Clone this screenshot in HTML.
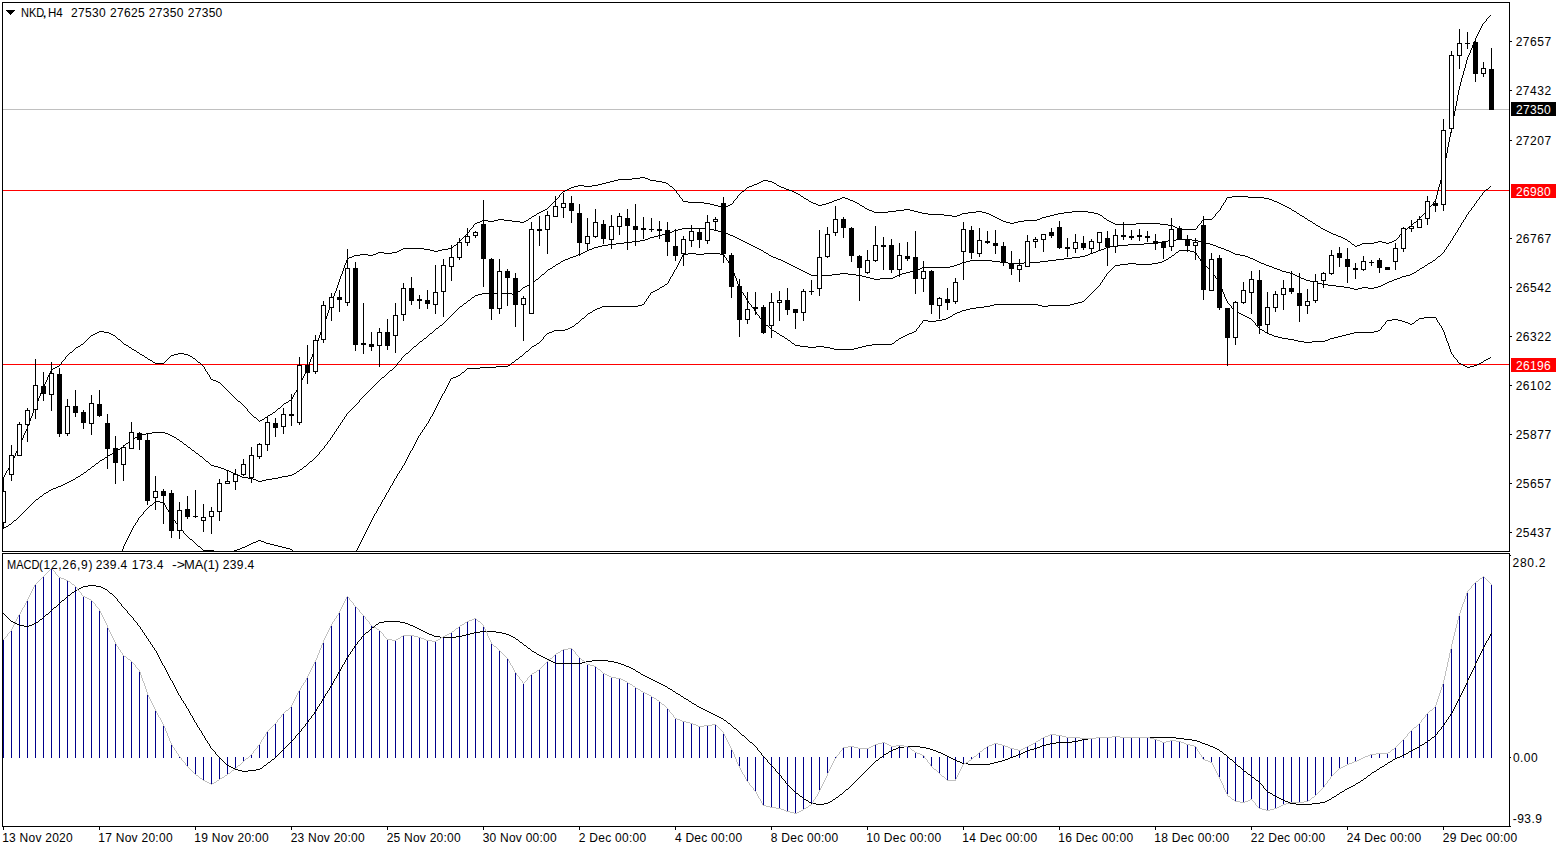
<!DOCTYPE html>
<html><head><meta charset="utf-8"><title>NKD,H4</title>
<style>
html,body{margin:0;padding:0;background:#fff;}
body{width:1566px;height:850px;position:relative;overflow:hidden;font-family:"Liberation Sans",sans-serif;}
svg{position:absolute;left:0;top:0;}
.t{position:absolute;font-size:12px;line-height:14px;white-space:nowrap;transform-origin:0 0;}
</style></head><body>
<svg width="1566" height="850" viewBox="0 0 1566 850" shape-rendering="crispEdges">
<defs><clipPath id="cm"><rect x="3" y="3" width="1506" height="548"/></clipPath>
<clipPath id="cs"><rect x="3" y="554" width="1506" height="272"/></clipPath></defs>
<rect x="3" y="109" width="1506" height="1" fill="#c0c0c0"/>
<rect x="3" y="190" width="1506" height="1" fill="#ff0000"/>
<rect x="3" y="364" width="1506" height="1" fill="#ff0000"/>
<g clip-path="url(#cm)">
<path fill="#000" d="M640 177h5v1h-5zM632 178h8v1h-8zM645 178h3v1h-3zM618 179h14v1h-14zM648 179h2v1h-2zM614 180h4v1h-4zM650 180h6v1h-6zM763 180h5v1h-5zM610 181h4v1h-4zM656 181h6v1h-6zM761 181h2v1h-2zM768 181h4v1h-4zM606 182h4v1h-4zM662 182h4v1h-4zM759 182h2v1h-2zM772 182h2v1h-2zM602 183h4v1h-4zM666 183h2v1h-2zM757 183h2v1h-2zM774 183h2v1h-2zM598 184h4v1h-4zM754 184h3v1h-3zM578 185h6v1h-6zM592 185h6v1h-6zM752 185h2v1h-2zM777 185h2v1h-2zM574 186h4v1h-4zM584 186h8v1h-8zM670 186h2v1h-2zM749 186h3v1h-3zM779 186h2v1h-2zM571 187h3v1h-3zM747 187h2v1h-2zM781 187h3v1h-3zM569 188h2v1h-2zM784 188h2v1h-2zM567 189h2v1h-2zM786 189h3v1h-3zM565 190h2v1h-2zM789 190h3v1h-3zM563 191h2v1h-2zM742 191h2v1h-2zM792 191h2v1h-2zM794 192h2v1h-2zM796 193h2v1h-2zM798 194h2v1h-2zM801 196h2v1h-2zM1232 196h16v1h-16zM842 197h3v1h-3zM1227 197h5v1h-5zM1248 197h16v1h-16zM804 198h2v1h-2zM840 198h2v1h-2zM845 198h3v1h-3zM1264 198h5v1h-5zM806 199h2v1h-2zM837 199h3v1h-3zM848 199h2v1h-2zM1269 199h3v1h-3zM834 200h3v1h-3zM850 200h3v1h-3zM1272 200h2v1h-2zM683 201h5v1h-5zM809 201h2v1h-2zM832 201h2v1h-2zM853 201h2v1h-2zM1274 201h3v1h-3zM688 202h16v1h-16zM811 202h2v1h-2zM829 202h3v1h-3zM855 202h2v1h-2zM1277 202h2v1h-2zM704 203h6v1h-6zM813 203h3v1h-3zM826 203h3v1h-3zM857 203h2v1h-2zM1279 203h2v1h-2zM710 204h4v1h-4zM730 204h2v1h-2zM816 204h2v1h-2zM822 204h4v1h-4zM1281 204h2v1h-2zM714 205h4v1h-4zM728 205h2v1h-2zM818 205h4v1h-4zM860 205h2v1h-2zM1283 205h2v1h-2zM718 206h4v1h-4zM725 206h3v1h-3zM862 206h2v1h-2zM1285 206h2v1h-2zM722 207h3v1h-3zM1287 207h2v1h-2zM865 208h2v1h-2zM1289 208h2v1h-2zM545 209h2v1h-2zM867 209h2v1h-2zM904 209h6v1h-6zM543 210h2v1h-2zM869 210h3v1h-3zM896 210h8v1h-8zM910 210h4v1h-4zM1292 210h2v1h-2zM541 211h2v1h-2zM872 211h2v1h-2zM888 211h8v1h-8zM914 211h4v1h-4zM976 211h6v1h-6zM1072 211h16v1h-16zM1294 211h2v1h-2zM539 212h2v1h-2zM874 212h14v1h-14zM918 212h4v1h-4zM968 212h8v1h-8zM982 212h4v1h-4zM1064 212h8v1h-8zM1088 212h6v1h-6zM537 213h2v1h-2zM922 213h6v1h-6zM962 213h6v1h-6zM986 213h3v1h-3zM1058 213h6v1h-6zM1094 213h4v1h-4zM1297 213h2v1h-2zM928 214h16v1h-16zM960 214h2v1h-2zM989 214h2v1h-2zM1054 214h4v1h-4zM1098 214h2v1h-2zM534 215h2v1h-2zM944 215h8v1h-8zM957 215h3v1h-3zM991 215h2v1h-2zM1050 215h4v1h-4zM1100 215h2v1h-2zM1300 215h2v1h-2zM532 216h2v1h-2zM952 216h5v1h-5zM993 216h2v1h-2zM1046 216h4v1h-4zM1302 216h2v1h-2zM995 217h2v1h-2zM1042 217h4v1h-4zM529 218h2v1h-2zM997 218h2v1h-2zM1040 218h2v1h-2zM1104 218h2v1h-2zM1305 218h2v1h-2zM498 219h6v1h-6zM999 219h2v1h-2zM1037 219h3v1h-3zM1203 219h9v1h-9zM482 220h6v1h-6zM494 220h4v1h-4zM504 220h8v1h-8zM526 220h2v1h-2zM1001 220h2v1h-2zM1024 220h13v1h-13zM1107 220h2v1h-2zM1308 220h2v1h-2zM480 221h2v1h-2zM488 221h6v1h-6zM512 221h8v1h-8zM524 221h2v1h-2zM1003 221h3v1h-3zM1018 221h6v1h-6zM1109 221h2v1h-2zM1310 221h2v1h-2zM477 222h3v1h-3zM520 222h4v1h-4zM1006 222h4v1h-4zM1014 222h4v1h-4zM1111 222h2v1h-2zM1414 222h2v1h-2zM475 223h2v1h-2zM1010 223h4v1h-4zM1113 223h2v1h-2zM1136 223h24v1h-24zM1313 223h2v1h-2zM1115 224h21v1h-21zM1160 224h8v1h-8zM1168 225h5v1h-5zM1316 225h2v1h-2zM1173 226h2v1h-2zM1318 226h2v1h-2zM1175 227h2v1h-2zM1408 227h2v1h-2zM1177 228h2v1h-2zM1321 228h2v1h-2zM1179 229h17v1h-17zM1323 229h2v1h-2zM1325 230h2v1h-2zM1404 230h2v1h-2zM1327 231h2v1h-2zM1329 232h2v1h-2zM1331 233h2v1h-2zM1333 234h3v1h-3zM1336 235h2v1h-2zM1338 236h3v1h-3zM1341 237h2v1h-2zM1343 238h2v1h-2zM1345 239h2v1h-2zM1394 240h2v1h-2zM1348 241h2v1h-2zM1378 241h4v1h-4zM1392 241h2v1h-2zM1374 242h4v1h-4zM1382 242h4v1h-4zM1389 242h3v1h-3zM1362 243h12v1h-12zM1386 243h3v1h-3zM1352 244h2v1h-2zM1360 244h2v1h-2zM454 245h2v1h-2zM1357 245h3v1h-3zM1355 246h2v1h-2zM403 248h21v1h-21zM448 248h4v1h-4zM401 249h2v1h-2zM424 249h6v1h-6zM442 249h6v1h-6zM399 250h2v1h-2zM430 250h4v1h-4zM438 250h4v1h-4zM397 251h2v1h-2zM434 251h4v1h-4zM378 252h6v1h-6zM392 252h5v1h-5zM376 253h2v1h-2zM384 253h8v1h-8zM360 254h8v1h-8zM373 254h3v1h-3zM354 255h6v1h-6zM368 255h5v1h-5zM352 256h2v1h-2zM349 257h3v1h-3zM347 258h2v1h-2zM99 331h5v1h-5zM97 332h2v1h-2zM104 332h5v1h-5zM95 333h2v1h-2zM109 333h2v1h-2zM93 334h2v1h-2zM111 334h2v1h-2zM91 335h2v1h-2zM113 335h2v1h-2zM118 339h2v1h-2zM81 344h2v1h-2zM124 344h2v1h-2zM126 345h2v1h-2zM78 346h2v1h-2zM76 347h2v1h-2zM129 347h2v1h-2zM132 349h2v1h-2zM134 350h2v1h-2zM70 352h2v1h-2zM137 352h2v1h-2zM178 353h6v1h-6zM140 354h2v1h-2zM174 354h4v1h-4zM184 354h4v1h-4zM142 355h2v1h-2zM171 355h3v1h-3zM188 355h2v1h-2zM190 356h2v1h-2zM145 357h2v1h-2zM193 358h2v1h-2zM148 359h2v1h-2zM150 360h2v1h-2zM153 362h2v1h-2zM198 362h2v1h-2zM155 363h9v1h-9zM57 366h2v1h-2zM55 367h2v1h-2zM53 368h2v1h-2zM51 369h2v1h-2zM211 379h2v1h-2zM213 380h3v1h-3zM216 381h2v1h-2zM218 382h2v1h-2zM289 400h2v1h-2zM238 401h2v1h-2zM286 402h2v1h-2zM284 403h2v1h-2zM278 408h2v1h-2zM273 412h2v1h-2zM270 414h2v1h-2zM268 415h2v1h-2zM254 417h2v1h-2zM265 417h2v1h-2zM262 419h2v1h-2zM260 420h2v1h-2zM3 477h1v1h-1zM4 475h1v2h-1zM5 473h1v2h-1zM6 471h1v2h-1zM7 470h1v1h-1zM8 468h1v2h-1zM9 466h1v2h-1zM10 464h1v2h-1zM11 462h1v2h-1zM12 460h1v2h-1zM13 458h1v2h-1zM14 456h1v2h-1zM15 453h1v3h-1zM16 451h1v2h-1zM17 449h1v2h-1zM18 447h1v2h-1zM19 444h1v3h-1zM20 442h1v2h-1zM21 440h1v2h-1zM22 438h1v2h-1zM23 435h1v3h-1zM24 433h1v2h-1zM25 431h1v2h-1zM26 429h1v2h-1zM27 426h1v3h-1zM28 424h1v2h-1zM29 421h1v3h-1zM30 418h1v3h-1zM31 416h1v2h-1zM32 413h1v3h-1zM33 410h1v3h-1zM34 408h1v2h-1zM35 405h1v3h-1zM36 403h1v2h-1zM37 401h1v2h-1zM38 398h1v3h-1zM39 396h1v2h-1zM40 393h1v3h-1zM41 391h1v2h-1zM42 389h1v2h-1zM43 386h1v3h-1zM44 384h1v2h-1zM45 382h1v2h-1zM46 380h1v2h-1zM47 377h1v3h-1zM48 375h1v2h-1zM49 373h1v2h-1zM50 371h1v2h-1zM51 370h1v1h-1zM59 365h1v1h-1zM60 364h1v1h-1zM61 362h1v2h-1zM62 361h1v1h-1zM63 360h1v1h-1zM64 359h1v1h-1zM65 357h1v2h-1zM66 356h1v1h-1zM67 355h1v1h-1zM68 354h1v1h-1zM69 353h1v1h-1zM72 351h1v1h-1zM73 350h1v1h-1zM74 349h1v1h-1zM75 348h1v1h-1zM80 345h1v1h-1zM83 343h1v1h-1zM84 342h1v1h-1zM85 341h1v1h-1zM86 340h1v1h-1zM87 339h1v1h-1zM88 338h1v1h-1zM89 337h1v1h-1zM90 336h1v1h-1zM115 336h1v1h-1zM116 337h1v1h-1zM117 338h1v1h-1zM120 340h1v1h-1zM121 341h1v1h-1zM122 342h1v1h-1zM123 343h1v1h-1zM128 346h1v1h-1zM131 348h1v1h-1zM136 351h1v1h-1zM139 353h1v1h-1zM144 356h1v1h-1zM147 358h1v1h-1zM152 361h1v1h-1zM164 362h1v1h-1zM165 361h1v1h-1zM166 360h1v1h-1zM167 359h1v1h-1zM168 358h1v1h-1zM169 357h1v1h-1zM170 356h1v1h-1zM192 357h1v1h-1zM195 359h1v1h-1zM196 360h1v1h-1zM197 361h1v1h-1zM200 363h1v1h-1zM201 364h1v1h-1zM202 365h1v1h-1zM203 366h1v1h-1zM204 367h1v2h-1zM205 369h1v2h-1zM206 371h1v1h-1zM207 372h1v2h-1zM208 374h1v1h-1zM209 375h1v2h-1zM210 377h1v2h-1zM220 383h1v1h-1zM221 384h1v1h-1zM222 385h1v1h-1zM223 386h1v1h-1zM224 387h1v1h-1zM225 388h1v1h-1zM226 389h1v1h-1zM227 390h1v1h-1zM228 391h1v1h-1zM229 392h1v1h-1zM230 393h1v1h-1zM231 394h1v1h-1zM232 395h1v1h-1zM233 396h1v1h-1zM234 397h1v1h-1zM235 398h1v1h-1zM236 399h1v1h-1zM237 400h1v1h-1zM240 402h1v1h-1zM241 403h1v1h-1zM242 404h1v1h-1zM243 405h1v1h-1zM244 406h1v1h-1zM245 407h1v1h-1zM246 408h1v1h-1zM247 409h1v2h-1zM248 411h1v1h-1zM249 412h1v1h-1zM250 413h1v1h-1zM251 414h1v1h-1zM252 415h1v1h-1zM253 416h1v1h-1zM256 418h1v1h-1zM257 419h1v1h-1zM258 420h1v1h-1zM259 421h1v1h-1zM264 418h1v1h-1zM267 416h1v1h-1zM272 413h1v1h-1zM275 411h1v1h-1zM276 410h1v1h-1zM277 409h1v1h-1zM280 407h1v1h-1zM281 406h1v1h-1zM282 405h1v1h-1zM283 404h1v1h-1zM288 401h1v1h-1zM291 399h1v1h-1zM292 397h1v2h-1zM293 395h1v2h-1zM294 393h1v2h-1zM295 392h1v1h-1zM296 390h1v2h-1zM297 388h1v2h-1zM298 386h1v2h-1zM299 384h1v2h-1zM300 382h1v2h-1zM301 380h1v2h-1zM302 378h1v2h-1zM303 376h1v2h-1zM304 374h1v2h-1zM305 372h1v2h-1zM306 370h1v2h-1zM307 367h1v3h-1zM308 365h1v2h-1zM309 362h1v3h-1zM310 359h1v3h-1zM311 357h1v2h-1zM312 354h1v3h-1zM313 351h1v3h-1zM314 349h1v2h-1zM315 346h1v3h-1zM316 343h1v3h-1zM317 341h1v2h-1zM318 338h1v3h-1zM319 335h1v3h-1zM320 332h1v3h-1zM321 330h1v2h-1zM322 327h1v3h-1zM323 324h1v3h-1zM324 321h1v3h-1zM325 319h1v2h-1zM326 316h1v3h-1zM327 313h1v3h-1zM328 310h1v3h-1zM329 308h1v2h-1zM330 305h1v3h-1zM331 302h1v3h-1zM332 299h1v3h-1zM333 296h1v3h-1zM334 293h1v3h-1zM335 291h1v2h-1zM336 288h1v3h-1zM337 285h1v3h-1zM338 282h1v3h-1zM339 279h1v3h-1zM340 276h1v3h-1zM341 274h1v2h-1zM342 271h1v3h-1zM343 268h1v3h-1zM344 265h1v3h-1zM345 263h1v2h-1zM346 260h1v3h-1zM347 259h1v1h-1zM452 247h1v1h-1zM453 246h1v1h-1zM456 244h1v1h-1zM457 243h1v1h-1zM458 242h1v1h-1zM459 241h1v1h-1zM460 240h1v1h-1zM461 239h1v1h-1zM462 238h1v1h-1zM463 237h1v1h-1zM464 236h1v1h-1zM465 235h1v1h-1zM466 234h1v1h-1zM467 233h1v1h-1zM468 232h1v1h-1zM469 230h1v2h-1zM470 229h1v1h-1zM471 228h1v1h-1zM472 227h1v1h-1zM473 225h1v2h-1zM474 224h1v1h-1zM528 219h1v1h-1zM531 217h1v1h-1zM536 214h1v1h-1zM547 208h1v1h-1zM548 207h1v1h-1zM549 206h1v1h-1zM550 205h1v1h-1zM551 204h1v1h-1zM552 203h1v1h-1zM553 202h1v1h-1zM554 201h1v1h-1zM555 200h1v1h-1zM556 199h1v1h-1zM557 198h1v1h-1zM558 197h1v1h-1zM559 195h1v2h-1zM560 194h1v1h-1zM561 193h1v1h-1zM562 192h1v1h-1zM668 184h1v1h-1zM669 185h1v1h-1zM672 187h1v1h-1zM673 188h1v1h-1zM674 189h1v1h-1zM675 190h1v1h-1zM676 191h1v2h-1zM677 193h1v1h-1zM678 194h1v1h-1zM679 195h1v2h-1zM680 197h1v1h-1zM681 198h1v1h-1zM682 199h1v2h-1zM732 203h1v1h-1zM733 201h1v2h-1zM734 200h1v1h-1zM735 199h1v1h-1zM736 198h1v1h-1zM737 196h1v2h-1zM738 195h1v1h-1zM739 194h1v1h-1zM740 193h1v1h-1zM741 192h1v1h-1zM744 190h1v1h-1zM745 189h1v1h-1zM746 188h1v1h-1zM776 184h1v1h-1zM800 195h1v1h-1zM803 197h1v1h-1zM808 200h1v1h-1zM859 204h1v1h-1zM864 207h1v1h-1zM1102 216h1v1h-1zM1103 217h1v1h-1zM1106 219h1v1h-1zM1196 228h1v1h-1zM1197 226h1v2h-1zM1198 225h1v1h-1zM1199 224h1v1h-1zM1200 223h1v1h-1zM1201 221h1v2h-1zM1202 220h1v1h-1zM1212 218h1v1h-1zM1213 217h1v1h-1zM1214 216h1v1h-1zM1215 214h1v2h-1zM1216 213h1v1h-1zM1217 212h1v1h-1zM1218 211h1v1h-1zM1219 210h1v1h-1zM1220 208h1v2h-1zM1221 206h1v2h-1zM1222 205h1v1h-1zM1223 203h1v2h-1zM1224 202h1v1h-1zM1225 200h1v2h-1zM1226 198h1v2h-1zM1291 209h1v1h-1zM1296 212h1v1h-1zM1299 214h1v1h-1zM1304 217h1v1h-1zM1307 219h1v1h-1zM1312 222h1v1h-1zM1315 224h1v1h-1zM1320 227h1v1h-1zM1347 240h1v1h-1zM1350 242h1v1h-1zM1351 243h1v1h-1zM1354 245h1v1h-1zM1396 239h1v1h-1zM1397 238h1v1h-1zM1398 237h1v1h-1zM1399 235h1v2h-1zM1400 234h1v1h-1zM1401 233h1v1h-1zM1402 232h1v1h-1zM1403 231h1v1h-1zM1406 229h1v1h-1zM1407 228h1v1h-1zM1410 226h1v1h-1zM1411 225h1v1h-1zM1412 224h1v1h-1zM1413 223h1v1h-1zM1416 221h1v1h-1zM1417 220h1v1h-1zM1418 219h1v1h-1zM1419 218h1v1h-1zM1420 217h1v1h-1zM1421 216h1v1h-1zM1422 215h1v1h-1zM1423 214h1v1h-1zM1424 213h1v1h-1zM1425 212h1v1h-1zM1426 211h1v1h-1zM1427 210h1v1h-1zM1428 209h1v1h-1zM1429 207h1v2h-1zM1430 206h1v1h-1zM1431 205h1v1h-1zM1432 204h1v1h-1zM1433 202h1v2h-1zM1434 201h1v1h-1zM1435 199h1v2h-1zM1436 195h1v4h-1zM1437 191h1v4h-1zM1438 187h1v4h-1zM1439 184h1v3h-1zM1440 180h1v4h-1zM1441 176h1v4h-1zM1442 172h1v4h-1zM1443 168h1v4h-1zM1444 163h1v5h-1zM1445 158h1v5h-1zM1446 153h1v5h-1zM1447 147h1v6h-1zM1448 142h1v5h-1zM1449 137h1v5h-1zM1450 132h1v5h-1zM1451 127h1v5h-1zM1452 122h1v5h-1zM1453 116h1v6h-1zM1454 111h1v5h-1zM1455 106h1v5h-1zM1456 101h1v5h-1zM1457 95h1v6h-1zM1458 90h1v5h-1zM1459 86h1v4h-1zM1460 82h1v4h-1zM1461 78h1v4h-1zM1462 75h1v3h-1zM1463 71h1v4h-1zM1464 68h1v3h-1zM1465 64h1v4h-1zM1466 60h1v4h-1zM1467 57h1v3h-1zM1468 55h1v2h-1zM1469 53h1v2h-1zM1470 50h1v3h-1zM1471 48h1v2h-1zM1472 45h1v3h-1zM1473 43h1v2h-1zM1474 41h1v2h-1zM1475 38h1v3h-1zM1476 36h1v2h-1zM1477 34h1v2h-1zM1478 32h1v2h-1zM1479 30h1v2h-1zM1480 28h1v2h-1zM1481 26h1v2h-1zM1482 24h1v2h-1zM1483 23h1v1h-1zM1484 22h1v1h-1zM1485 21h1v1h-1zM1486 19h1v2h-1zM1487 18h1v1h-1zM1488 17h1v1h-1zM1489 16h1v1h-1zM1490 15h1v1h-1z"/>
<path fill="#000" d="M1486 189h2v1h-2zM682 228h28v1h-28zM678 229h4v1h-4zM710 229h4v1h-4zM674 230h4v1h-4zM714 230h4v1h-4zM672 231h2v1h-2zM718 231h4v1h-4zM669 232h3v1h-3zM722 232h3v1h-3zM666 233h3v1h-3zM725 233h3v1h-3zM662 234h4v1h-4zM728 234h2v1h-2zM658 235h4v1h-4zM730 235h3v1h-3zM654 236h4v1h-4zM733 236h2v1h-2zM650 237h4v1h-4zM735 237h2v1h-2zM648 238h2v1h-2zM737 238h2v1h-2zM645 239h3v1h-3zM739 239h2v1h-2zM1176 239h16v1h-16zM640 240h5v1h-5zM741 240h2v1h-2zM1168 240h8v1h-8zM1192 240h6v1h-6zM632 241h8v1h-8zM743 241h2v1h-2zM1162 241h6v1h-6zM1198 241h4v1h-4zM624 242h8v1h-8zM745 242h2v1h-2zM1158 242h4v1h-4zM1202 242h4v1h-4zM616 243h8v1h-8zM747 243h2v1h-2zM1144 243h14v1h-14zM1206 243h4v1h-4zM608 244h8v1h-8zM749 244h2v1h-2zM1128 244h16v1h-16zM1210 244h3v1h-3zM602 245h6v1h-6zM751 245h2v1h-2zM1114 245h14v1h-14zM1213 245h3v1h-3zM598 246h4v1h-4zM753 246h2v1h-2zM1110 246h4v1h-4zM1216 246h2v1h-2zM594 247h4v1h-4zM755 247h2v1h-2zM1106 247h4v1h-4zM1218 247h3v1h-3zM592 248h2v1h-2zM757 248h2v1h-2zM1104 248h2v1h-2zM1221 248h3v1h-3zM589 249h3v1h-3zM759 249h2v1h-2zM1101 249h3v1h-3zM1224 249h2v1h-2zM587 250h2v1h-2zM761 250h2v1h-2zM1098 250h3v1h-3zM1226 250h3v1h-3zM585 251h2v1h-2zM1096 251h2v1h-2zM1229 251h2v1h-2zM583 252h2v1h-2zM764 252h2v1h-2zM1093 252h3v1h-3zM1231 252h2v1h-2zM581 253h2v1h-2zM766 253h2v1h-2zM1090 253h3v1h-3zM1233 253h2v1h-2zM578 254h3v1h-3zM1088 254h2v1h-2zM1235 254h5v1h-5zM576 255h2v1h-2zM769 255h2v1h-2zM1085 255h3v1h-3zM1240 255h5v1h-5zM573 256h3v1h-3zM771 256h2v1h-2zM1080 256h5v1h-5zM1245 256h3v1h-3zM1438 256h2v1h-2zM570 257h3v1h-3zM773 257h3v1h-3zM1072 257h8v1h-8zM1248 257h2v1h-2zM568 258h2v1h-2zM776 258h2v1h-2zM1064 258h8v1h-8zM1250 258h3v1h-3zM565 259h3v1h-3zM778 259h3v1h-3zM1056 259h8v1h-8zM1253 259h2v1h-2zM563 260h2v1h-2zM781 260h2v1h-2zM970 260h22v1h-22zM1048 260h8v1h-8zM1255 260h2v1h-2zM1433 260h2v1h-2zM561 261h2v1h-2zM783 261h2v1h-2zM966 261h4v1h-4zM992 261h8v1h-8zM1040 261h8v1h-8zM1257 261h2v1h-2zM785 262h2v1h-2zM962 262h4v1h-4zM1000 262h8v1h-8zM1024 262h16v1h-16zM1259 262h2v1h-2zM1430 262h2v1h-2zM558 263h2v1h-2zM787 263h2v1h-2zM960 263h2v1h-2zM1008 263h16v1h-16zM1261 263h3v1h-3zM1428 263h2v1h-2zM556 264h2v1h-2zM789 264h2v1h-2zM957 264h3v1h-3zM1264 264h2v1h-2zM791 265h2v1h-2zM954 265h3v1h-3zM1266 265h3v1h-3zM1425 265h2v1h-2zM553 266h2v1h-2zM793 266h2v1h-2zM950 266h4v1h-4zM1269 266h3v1h-3zM795 267h2v1h-2zM922 267h28v1h-28zM1272 267h2v1h-2zM1422 267h2v1h-2zM550 268h2v1h-2zM797 268h2v1h-2zM920 268h2v1h-2zM1274 268h3v1h-3zM1420 268h2v1h-2zM548 269h2v1h-2zM799 269h2v1h-2zM917 269h3v1h-3zM1277 269h3v1h-3zM801 270h2v1h-2zM914 270h3v1h-3zM1280 270h2v1h-2zM1417 270h2v1h-2zM803 271h2v1h-2zM910 271h4v1h-4zM1282 271h4v1h-4zM805 272h2v1h-2zM906 272h4v1h-4zM1286 272h4v1h-4zM1414 272h2v1h-2zM807 273h2v1h-2zM840 273h8v1h-8zM902 273h4v1h-4zM1290 273h3v1h-3zM1412 273h2v1h-2zM542 274h2v1h-2zM809 274h2v1h-2zM832 274h8v1h-8zM848 274h8v1h-8zM899 274h3v1h-3zM1293 274h2v1h-2zM1410 274h2v1h-2zM811 275h21v1h-21zM856 275h6v1h-6zM897 275h2v1h-2zM1295 275h2v1h-2zM1406 275h4v1h-4zM862 276h4v1h-4zM895 276h2v1h-2zM1297 276h2v1h-2zM1402 276h4v1h-4zM866 277h4v1h-4zM893 277h2v1h-2zM1299 277h2v1h-2zM1400 277h2v1h-2zM870 278h4v1h-4zM880 278h13v1h-13zM1301 278h3v1h-3zM1397 278h3v1h-3zM536 279h2v1h-2zM874 279h6v1h-6zM1304 279h2v1h-2zM1394 279h3v1h-3zM1306 280h4v1h-4zM1392 280h2v1h-2zM1310 281h4v1h-4zM1389 281h3v1h-3zM532 282h2v1h-2zM1314 282h4v1h-4zM1387 282h2v1h-2zM1318 283h4v1h-4zM1385 283h2v1h-2zM529 284h2v1h-2zM1322 284h6v1h-6zM1383 284h2v1h-2zM527 285h2v1h-2zM1328 285h8v1h-8zM1381 285h2v1h-2zM525 286h2v1h-2zM1336 286h8v1h-8zM1378 286h3v1h-3zM523 287h2v1h-2zM1344 287h6v1h-6zM1362 287h6v1h-6zM1374 287h4v1h-4zM1350 288h4v1h-4zM1358 288h4v1h-4zM1368 288h6v1h-6zM1354 289h4v1h-4zM518 291h2v1h-2zM482 293h30v1h-30zM478 294h4v1h-4zM512 294h4v1h-4zM475 295h3v1h-3zM472 297h2v1h-2zM468 300h2v1h-2zM464 303h2v1h-2zM460 306h2v1h-2zM440 325h2v1h-2zM436 328h2v1h-2zM430 333h2v1h-2zM424 338h2v1h-2zM420 341h2v1h-2zM414 346h2v1h-2zM406 353h2v1h-2zM390 370h2v1h-2zM382 377h2v1h-2zM152 432h13v1h-13zM146 433h6v1h-6zM165 433h3v1h-3zM142 434h4v1h-4zM168 434h2v1h-2zM139 435h3v1h-3zM170 435h2v1h-2zM137 436h2v1h-2zM172 436h2v1h-2zM135 437h2v1h-2zM174 437h2v1h-2zM133 438h2v1h-2zM131 439h2v1h-2zM177 439h2v1h-2zM180 441h2v1h-2zM126 443h2v1h-2zM184 444h2v1h-2zM121 447h2v1h-2zM188 447h2v1h-2zM118 449h2v1h-2zM116 450h2v1h-2zM192 450h2v1h-2zM113 452h2v1h-2zM196 453h2v1h-2zM110 454h2v1h-2zM108 455h2v1h-2zM200 456h2v1h-2zM105 457h2v1h-2zM102 459h2v1h-2zM100 460h2v1h-2zM206 461h2v1h-2zM310 461h2v1h-2zM96 463h2v1h-2zM211 465h3v1h-3zM92 466h2v1h-2zM214 466h4v1h-4zM304 466h2v1h-2zM218 467h3v1h-3zM221 468h3v1h-3zM88 469h2v1h-2zM224 469h2v1h-2zM300 469h2v1h-2zM226 470h3v1h-3zM229 471h2v1h-2zM297 471h2v1h-2zM84 472h2v1h-2zM231 472h2v1h-2zM233 473h2v1h-2zM294 473h2v1h-2zM81 474h2v1h-2zM235 474h2v1h-2zM292 474h2v1h-2zM237 475h3v1h-3zM288 475h4v1h-4zM78 476h2v1h-2zM240 476h2v1h-2zM282 476h6v1h-6zM76 477h2v1h-2zM242 477h6v1h-6zM278 477h4v1h-4zM248 478h5v1h-5zM272 478h6v1h-6zM73 479h2v1h-2zM253 479h3v1h-3zM266 479h6v1h-6zM71 480h2v1h-2zM256 480h2v1h-2zM262 480h4v1h-4zM69 481h2v1h-2zM258 481h4v1h-4zM67 482h2v1h-2zM65 483h2v1h-2zM63 484h2v1h-2zM61 485h2v1h-2zM58 486h3v1h-3zM56 487h2v1h-2zM53 488h3v1h-3zM51 489h2v1h-2zM49 490h2v1h-2zM46 492h2v1h-2zM44 493h2v1h-2zM40 496h2v1h-2zM36 499h2v1h-2zM14 520h2v1h-2zM9 524h2v1h-2zM6 526h2v1h-2zM4 527h2v1h-2zM3 528h1v1h-1zM8 525h1v1h-1zM11 523h1v1h-1zM12 522h1v1h-1zM13 521h1v1h-1zM16 519h1v1h-1zM17 518h1v1h-1zM18 517h1v1h-1zM19 516h1v1h-1zM20 515h1v1h-1zM21 514h1v1h-1zM22 513h1v1h-1zM23 512h1v1h-1zM24 511h1v1h-1zM25 510h1v1h-1zM26 509h1v1h-1zM27 508h1v1h-1zM28 507h1v1h-1zM29 506h1v1h-1zM30 505h1v1h-1zM31 504h1v1h-1zM32 503h1v1h-1zM33 502h1v1h-1zM34 501h1v1h-1zM35 500h1v1h-1zM38 498h1v1h-1zM39 497h1v1h-1zM42 495h1v1h-1zM43 494h1v1h-1zM48 491h1v1h-1zM75 478h1v1h-1zM80 475h1v1h-1zM83 473h1v1h-1zM86 471h1v1h-1zM87 470h1v1h-1zM90 468h1v1h-1zM91 467h1v1h-1zM94 465h1v1h-1zM95 464h1v1h-1zM98 462h1v1h-1zM99 461h1v1h-1zM104 458h1v1h-1zM107 456h1v1h-1zM112 453h1v1h-1zM115 451h1v1h-1zM120 448h1v1h-1zM123 446h1v1h-1zM124 445h1v1h-1zM125 444h1v1h-1zM128 442h1v1h-1zM129 441h1v1h-1zM130 440h1v1h-1zM176 438h1v1h-1zM179 440h1v1h-1zM182 442h1v1h-1zM183 443h1v1h-1zM186 445h1v1h-1zM187 446h1v1h-1zM190 448h1v1h-1zM191 449h1v1h-1zM194 451h1v1h-1zM195 452h1v1h-1zM198 454h1v1h-1zM199 455h1v1h-1zM202 457h1v1h-1zM203 458h1v1h-1zM204 459h1v1h-1zM205 460h1v1h-1zM208 462h1v1h-1zM209 463h1v1h-1zM210 464h1v1h-1zM296 472h1v1h-1zM299 470h1v1h-1zM302 468h1v1h-1zM303 467h1v1h-1zM306 465h1v1h-1zM307 464h1v1h-1zM308 463h1v1h-1zM309 462h1v1h-1zM312 460h1v1h-1zM313 459h1v1h-1zM314 458h1v1h-1zM315 457h1v1h-1zM316 456h1v1h-1zM317 455h1v1h-1zM318 454h1v1h-1zM319 452h1v2h-1zM320 451h1v1h-1zM321 450h1v1h-1zM322 449h1v1h-1zM323 448h1v1h-1zM324 446h1v2h-1zM325 445h1v1h-1zM326 444h1v1h-1zM327 442h1v2h-1zM328 441h1v1h-1zM329 440h1v1h-1zM330 438h1v2h-1zM331 437h1v1h-1zM332 435h1v2h-1zM333 434h1v1h-1zM334 432h1v2h-1zM335 431h1v1h-1zM336 429h1v2h-1zM337 428h1v1h-1zM338 426h1v2h-1zM339 425h1v1h-1zM340 423h1v2h-1zM341 422h1v1h-1zM342 420h1v2h-1zM343 419h1v1h-1zM344 417h1v2h-1zM345 416h1v1h-1zM346 414h1v2h-1zM347 413h1v1h-1zM348 412h1v1h-1zM349 411h1v1h-1zM350 410h1v1h-1zM351 409h1v1h-1zM352 408h1v1h-1zM353 407h1v1h-1zM354 406h1v1h-1zM355 405h1v1h-1zM356 404h1v1h-1zM357 403h1v1h-1zM358 402h1v1h-1zM359 400h1v2h-1zM360 399h1v1h-1zM361 398h1v1h-1zM362 397h1v1h-1zM363 396h1v1h-1zM364 395h1v1h-1zM365 394h1v1h-1zM366 393h1v1h-1zM367 392h1v1h-1zM368 391h1v1h-1zM369 390h1v1h-1zM370 389h1v1h-1zM371 388h1v1h-1zM372 387h1v1h-1zM373 386h1v1h-1zM374 385h1v1h-1zM375 384h1v1h-1zM376 383h1v1h-1zM377 382h1v1h-1zM378 381h1v1h-1zM379 380h1v1h-1zM380 379h1v1h-1zM381 378h1v1h-1zM384 376h1v1h-1zM385 375h1v1h-1zM386 374h1v1h-1zM387 373h1v1h-1zM388 372h1v1h-1zM389 371h1v1h-1zM392 369h1v1h-1zM393 368h1v1h-1zM394 367h1v1h-1zM395 366h1v1h-1zM396 365h1v1h-1zM397 363h1v2h-1zM398 362h1v1h-1zM399 361h1v1h-1zM400 360h1v1h-1zM401 358h1v2h-1zM402 357h1v1h-1zM403 356h1v1h-1zM404 355h1v1h-1zM405 354h1v1h-1zM408 352h1v1h-1zM409 351h1v1h-1zM410 350h1v1h-1zM411 349h1v1h-1zM412 348h1v1h-1zM413 347h1v1h-1zM416 345h1v1h-1zM417 344h1v1h-1zM418 343h1v1h-1zM419 342h1v1h-1zM422 340h1v1h-1zM423 339h1v1h-1zM426 337h1v1h-1zM427 336h1v1h-1zM428 335h1v1h-1zM429 334h1v1h-1zM432 332h1v1h-1zM433 331h1v1h-1zM434 330h1v1h-1zM435 329h1v1h-1zM438 327h1v1h-1zM439 326h1v1h-1zM442 324h1v1h-1zM443 323h1v1h-1zM444 322h1v1h-1zM445 321h1v1h-1zM446 320h1v1h-1zM447 319h1v1h-1zM448 318h1v1h-1zM449 317h1v1h-1zM450 316h1v1h-1zM451 315h1v1h-1zM452 314h1v1h-1zM453 313h1v1h-1zM454 312h1v1h-1zM455 311h1v1h-1zM456 310h1v1h-1zM457 309h1v1h-1zM458 308h1v1h-1zM459 307h1v1h-1zM462 305h1v1h-1zM463 304h1v1h-1zM466 302h1v1h-1zM467 301h1v1h-1zM470 299h1v1h-1zM471 298h1v1h-1zM474 296h1v1h-1zM516 293h1v1h-1zM517 292h1v1h-1zM520 290h1v1h-1zM521 289h1v1h-1zM522 288h1v1h-1zM531 283h1v1h-1zM534 281h1v1h-1zM535 280h1v1h-1zM538 278h1v1h-1zM539 277h1v1h-1zM540 276h1v1h-1zM541 275h1v1h-1zM544 273h1v1h-1zM545 272h1v1h-1zM546 271h1v1h-1zM547 270h1v1h-1zM552 267h1v1h-1zM555 265h1v1h-1zM560 262h1v1h-1zM763 251h1v1h-1zM768 254h1v1h-1zM1416 271h1v1h-1zM1419 269h1v1h-1zM1424 266h1v1h-1zM1427 264h1v1h-1zM1432 261h1v1h-1zM1435 259h1v1h-1zM1436 258h1v1h-1zM1437 257h1v1h-1zM1440 255h1v1h-1zM1441 254h1v1h-1zM1442 253h1v1h-1zM1443 252h1v1h-1zM1444 250h1v2h-1zM1445 249h1v1h-1zM1446 247h1v2h-1zM1447 246h1v1h-1zM1448 244h1v2h-1zM1449 243h1v1h-1zM1450 241h1v2h-1zM1451 240h1v1h-1zM1452 238h1v2h-1zM1453 236h1v2h-1zM1454 235h1v1h-1zM1455 233h1v2h-1zM1456 232h1v1h-1zM1457 230h1v2h-1zM1458 228h1v2h-1zM1459 227h1v1h-1zM1460 225h1v2h-1zM1461 223h1v2h-1zM1462 222h1v1h-1zM1463 220h1v2h-1zM1464 219h1v1h-1zM1465 217h1v2h-1zM1466 215h1v2h-1zM1467 214h1v1h-1zM1468 212h1v2h-1zM1469 211h1v1h-1zM1470 210h1v1h-1zM1471 208h1v2h-1zM1472 207h1v1h-1zM1473 206h1v1h-1zM1474 204h1v2h-1zM1475 203h1v1h-1zM1476 201h1v2h-1zM1477 200h1v1h-1zM1478 199h1v1h-1zM1479 197h1v2h-1zM1480 196h1v1h-1zM1481 195h1v1h-1zM1482 193h1v2h-1zM1483 192h1v1h-1zM1484 191h1v1h-1zM1485 190h1v1h-1zM1488 188h1v1h-1zM1489 187h1v1h-1zM1490 186h1v1h-1z"/>
<path fill="#000" d="M155 501h5v1h-5zM160 502h4v1h-4zM150 505h2v1h-2zM190 539h2v1h-2zM258 540h3v1h-3zM256 541h2v1h-2zM261 541h3v1h-3zM253 542h3v1h-3zM264 542h2v1h-2zM251 543h2v1h-2zM266 543h4v1h-4zM249 544h2v1h-2zM270 544h4v1h-4zM247 545h2v1h-2zM274 545h4v1h-4zM198 546h2v1h-2zM245 546h2v1h-2zM278 546h4v1h-4zM242 547h3v1h-3zM282 547h4v1h-4zM240 548h2v1h-2zM286 548h4v1h-4zM237 549h3v1h-3zM290 549h2v1h-2zM203 550h11v1h-11zM234 550h3v1h-3zM122 549h1v2h-1zM123 546h1v3h-1zM124 544h1v2h-1zM125 542h1v2h-1zM126 540h1v2h-1zM127 538h1v2h-1zM128 536h1v2h-1zM129 534h1v2h-1zM130 532h1v2h-1zM131 530h1v2h-1zM132 528h1v2h-1zM133 526h1v2h-1zM134 525h1v1h-1zM135 523h1v2h-1zM136 522h1v1h-1zM137 520h1v2h-1zM138 518h1v2h-1zM139 517h1v1h-1zM140 516h1v1h-1zM141 515h1v1h-1zM142 514h1v1h-1zM143 512h1v2h-1zM144 511h1v1h-1zM145 510h1v1h-1zM146 509h1v1h-1zM147 508h1v1h-1zM148 507h1v1h-1zM149 506h1v1h-1zM152 504h1v1h-1zM153 503h1v1h-1zM154 502h1v1h-1zM164 503h1v2h-1zM165 505h1v2h-1zM166 507h1v2h-1zM167 509h1v1h-1zM168 510h1v2h-1zM169 512h1v2h-1zM170 514h1v2h-1zM171 516h1v1h-1zM172 517h1v2h-1zM173 519h1v1h-1zM174 520h1v1h-1zM175 521h1v2h-1zM176 523h1v1h-1zM177 524h1v1h-1zM178 525h1v2h-1zM179 527h1v1h-1zM180 528h1v1h-1zM181 529h1v1h-1zM182 530h1v1h-1zM183 531h1v2h-1zM184 533h1v1h-1zM185 534h1v1h-1zM186 535h1v1h-1zM187 536h1v1h-1zM188 537h1v1h-1zM189 538h1v1h-1zM192 540h1v1h-1zM193 541h1v1h-1zM194 542h1v1h-1zM195 543h1v1h-1zM196 544h1v1h-1zM197 545h1v1h-1zM200 547h1v1h-1zM201 548h1v1h-1zM202 549h1v1h-1zM292 550h1v1h-1z"/>
<path fill="#000" d="M1179 250h11v1h-11zM1190 251h4v1h-4zM1176 252h2v1h-2zM1194 252h2v1h-2zM688 253h8v1h-8zM704 253h16v1h-16zM683 254h5v1h-5zM696 254h8v1h-8zM720 254h4v1h-4zM1172 255h2v1h-2zM1169 257h2v1h-2zM1166 259h2v1h-2zM1164 260h2v1h-2zM1162 261h2v1h-2zM1158 262h4v1h-4zM1128 263h8v1h-8zM1152 263h6v1h-6zM1120 264h8v1h-8zM1136 264h16v1h-16zM1115 265h5v1h-5zM1204 265h2v1h-2zM1208 268h2v1h-2zM665 284h2v1h-2zM662 286h2v1h-2zM660 287h2v1h-2zM657 289h2v1h-2zM655 290h2v1h-2zM653 291h2v1h-2zM651 292h2v1h-2zM1082 301h2v1h-2zM1078 302h4v1h-4zM1074 303h4v1h-4zM642 304h2v1h-2zM994 304h44v1h-44zM1070 304h4v1h-4zM638 305h4v1h-4zM990 305h4v1h-4zM1038 305h4v1h-4zM1048 305h22v1h-22zM602 306h36v1h-36zM984 306h6v1h-6zM1042 306h6v1h-6zM600 307h2v1h-2zM976 307h8v1h-8zM597 308h3v1h-3zM970 308h6v1h-6zM595 309h2v1h-2zM966 309h4v1h-4zM593 310h2v1h-2zM962 310h4v1h-4zM960 311h2v1h-2zM1235 311h2v1h-2zM590 312h2v1h-2zM957 312h3v1h-3zM1237 312h2v1h-2zM588 313h2v1h-2zM955 313h2v1h-2zM1239 313h2v1h-2zM953 314h2v1h-2zM1241 314h2v1h-2zM1243 315h2v1h-2zM950 316h2v1h-2zM1245 316h2v1h-2zM948 317h2v1h-2zM1247 317h2v1h-2zM1424 317h12v1h-12zM582 318h2v1h-2zM946 318h2v1h-2zM1249 318h2v1h-2zM1419 318h5v1h-5zM942 319h4v1h-4zM1392 319h6v1h-6zM923 320h5v1h-5zM936 320h6v1h-6zM1387 320h5v1h-5zM1398 320h4v1h-4zM1416 320h2v1h-2zM928 321h8v1h-8zM1402 321h3v1h-3zM1405 322h3v1h-3zM576 323h2v1h-2zM1408 323h2v1h-2zM1412 323h2v1h-2zM1410 324h2v1h-2zM766 325h2v1h-2zM572 326h2v1h-2zM570 327h2v1h-2zM568 328h2v1h-2zM565 329h3v1h-3zM1260 329h2v1h-2zM554 330h11v1h-11zM772 330h2v1h-2zM1262 330h2v1h-2zM1378 330h2v1h-2zM552 331h2v1h-2zM774 331h2v1h-2zM914 331h2v1h-2zM1374 331h4v1h-4zM549 332h3v1h-3zM912 332h2v1h-2zM1265 332h2v1h-2zM1354 332h20v1h-20zM547 333h2v1h-2zM777 333h2v1h-2zM909 333h3v1h-3zM1267 333h2v1h-2zM1350 333h4v1h-4zM907 334h2v1h-2zM1269 334h3v1h-3zM1346 334h4v1h-4zM780 335h2v1h-2zM905 335h2v1h-2zM1272 335h2v1h-2zM1342 335h4v1h-4zM782 336h2v1h-2zM903 336h2v1h-2zM1274 336h4v1h-4zM1338 336h4v1h-4zM901 337h2v1h-2zM1278 337h4v1h-4zM1334 337h4v1h-4zM785 338h2v1h-2zM899 338h2v1h-2zM1282 338h6v1h-6zM1330 338h4v1h-4zM1288 339h6v1h-6zM1328 339h2v1h-2zM788 340h2v1h-2zM896 340h2v1h-2zM1294 340h4v1h-4zM1325 340h3v1h-3zM1298 341h6v1h-6zM1312 341h13v1h-13zM1304 342h8v1h-8zM537 343h2v1h-2zM792 343h2v1h-2zM892 343h2v1h-2zM872 344h20v1h-20zM534 345h2v1h-2zM795 345h5v1h-5zM866 345h6v1h-6zM532 346h2v1h-2zM800 346h8v1h-8zM816 346h8v1h-8zM862 346h4v1h-4zM808 347h8v1h-8zM824 347h6v1h-6zM858 347h4v1h-4zM830 348h4v1h-4zM854 348h4v1h-4zM834 349h20v1h-20zM526 351h2v1h-2zM520 356h2v1h-2zM1488 358h2v1h-2zM516 359h2v1h-2zM1486 359h2v1h-2zM1484 360h2v1h-2zM512 362h2v1h-2zM1481 362h2v1h-2zM1459 363h2v1h-2zM1479 363h2v1h-2zM1461 364h2v1h-2zM1477 364h2v1h-2zM508 365h2v1h-2zM1463 365h2v1h-2zM1474 365h3v1h-3zM496 366h12v1h-12zM1465 366h2v1h-2zM1470 366h4v1h-4zM480 367h16v1h-16zM1467 367h3v1h-3zM467 368h13v1h-13zM462 372h2v1h-2zM458 375h2v1h-2zM456 376h2v1h-2zM453 377h3v1h-3zM451 378h2v1h-2zM356 550h1v1h-1zM357 548h1v2h-1zM358 546h1v2h-1zM359 544h1v2h-1zM360 542h1v2h-1zM361 540h1v2h-1zM362 538h1v2h-1zM363 536h1v2h-1zM364 534h1v2h-1zM365 532h1v2h-1zM366 530h1v2h-1zM367 528h1v2h-1zM368 526h1v2h-1zM369 524h1v2h-1zM370 522h1v2h-1zM371 520h1v2h-1zM372 518h1v2h-1zM373 516h1v2h-1zM374 514h1v2h-1zM375 513h1v1h-1zM376 511h1v2h-1zM377 509h1v2h-1zM378 507h1v2h-1zM379 506h1v1h-1zM380 504h1v2h-1zM381 502h1v2h-1zM382 500h1v2h-1zM383 499h1v1h-1zM384 497h1v2h-1zM385 495h1v2h-1zM386 493h1v2h-1zM387 492h1v1h-1zM388 490h1v2h-1zM389 488h1v2h-1zM390 486h1v2h-1zM391 485h1v1h-1zM392 483h1v2h-1zM393 481h1v2h-1zM394 479h1v2h-1zM395 478h1v1h-1zM396 476h1v2h-1zM397 474h1v2h-1zM398 473h1v1h-1zM399 471h1v2h-1zM400 470h1v1h-1zM401 468h1v2h-1zM402 466h1v2h-1zM403 465h1v1h-1zM404 463h1v2h-1zM405 461h1v2h-1zM406 459h1v2h-1zM407 457h1v2h-1zM408 455h1v2h-1zM409 453h1v2h-1zM410 451h1v2h-1zM411 450h1v1h-1zM412 448h1v2h-1zM413 446h1v2h-1zM414 444h1v2h-1zM415 442h1v2h-1zM416 440h1v2h-1zM417 438h1v2h-1zM418 436h1v2h-1zM419 435h1v1h-1zM420 433h1v2h-1zM421 432h1v1h-1zM422 430h1v2h-1zM423 429h1v1h-1zM424 427h1v2h-1zM425 426h1v1h-1zM426 424h1v2h-1zM427 423h1v1h-1zM428 421h1v2h-1zM429 419h1v2h-1zM430 417h1v2h-1zM431 416h1v1h-1zM432 414h1v2h-1zM433 412h1v2h-1zM434 410h1v2h-1zM435 408h1v2h-1zM436 406h1v2h-1zM437 404h1v2h-1zM438 402h1v2h-1zM439 400h1v2h-1zM440 398h1v2h-1zM441 396h1v2h-1zM442 394h1v2h-1zM443 393h1v1h-1zM444 391h1v2h-1zM445 389h1v2h-1zM446 387h1v2h-1zM447 385h1v2h-1zM448 383h1v2h-1zM449 381h1v2h-1zM450 379h1v2h-1zM460 374h1v1h-1zM461 373h1v1h-1zM464 371h1v1h-1zM465 370h1v1h-1zM466 369h1v1h-1zM510 364h1v1h-1zM511 363h1v1h-1zM514 361h1v1h-1zM515 360h1v1h-1zM518 358h1v1h-1zM519 357h1v1h-1zM522 355h1v1h-1zM523 354h1v1h-1zM524 353h1v1h-1zM525 352h1v1h-1zM528 350h1v1h-1zM529 349h1v1h-1zM530 348h1v1h-1zM531 347h1v1h-1zM536 344h1v1h-1zM539 342h1v1h-1zM540 341h1v1h-1zM541 340h1v1h-1zM542 339h1v1h-1zM543 337h1v2h-1zM544 336h1v1h-1zM545 335h1v1h-1zM546 334h1v1h-1zM574 325h1v1h-1zM575 324h1v1h-1zM578 322h1v1h-1zM579 321h1v1h-1zM580 320h1v1h-1zM581 319h1v1h-1zM584 317h1v1h-1zM585 316h1v1h-1zM586 315h1v1h-1zM587 314h1v1h-1zM592 311h1v1h-1zM644 302h1v2h-1zM645 301h1v1h-1zM646 299h1v2h-1zM647 298h1v1h-1zM648 296h1v2h-1zM649 295h1v1h-1zM650 293h1v2h-1zM659 288h1v1h-1zM664 285h1v1h-1zM667 283h1v1h-1zM668 281h1v2h-1zM669 279h1v2h-1zM670 277h1v2h-1zM671 276h1v1h-1zM672 274h1v2h-1zM673 272h1v2h-1zM674 270h1v2h-1zM675 269h1v1h-1zM676 267h1v2h-1zM677 265h1v2h-1zM678 263h1v2h-1zM679 261h1v2h-1zM680 259h1v2h-1zM681 257h1v2h-1zM682 255h1v2h-1zM724 255h1v2h-1zM725 257h1v1h-1zM726 258h1v2h-1zM727 260h1v1h-1zM728 261h1v2h-1zM729 263h1v1h-1zM730 264h1v2h-1zM731 266h1v2h-1zM732 268h1v2h-1zM733 270h1v3h-1zM734 273h1v3h-1zM735 276h1v2h-1zM736 278h1v3h-1zM737 281h1v3h-1zM738 284h1v2h-1zM739 286h1v2h-1zM740 288h1v2h-1zM741 290h1v2h-1zM742 292h1v1h-1zM743 293h1v2h-1zM744 295h1v1h-1zM745 296h1v2h-1zM746 298h1v2h-1zM747 300h1v1h-1zM748 301h1v2h-1zM749 303h1v1h-1zM750 304h1v1h-1zM751 305h1v2h-1zM752 307h1v1h-1zM753 308h1v1h-1zM754 309h1v2h-1zM755 311h1v1h-1zM756 312h1v2h-1zM757 314h1v1h-1zM758 315h1v1h-1zM759 316h1v2h-1zM760 318h1v1h-1zM761 319h1v1h-1zM762 320h1v2h-1zM763 322h1v1h-1zM764 323h1v1h-1zM765 324h1v1h-1zM768 326h1v1h-1zM769 327h1v1h-1zM770 328h1v1h-1zM771 329h1v1h-1zM776 332h1v1h-1zM779 334h1v1h-1zM784 337h1v1h-1zM787 339h1v1h-1zM790 341h1v1h-1zM791 342h1v1h-1zM794 344h1v1h-1zM894 342h1v1h-1zM895 341h1v1h-1zM898 339h1v1h-1zM916 329h1v2h-1zM917 328h1v1h-1zM918 327h1v1h-1zM919 325h1v2h-1zM920 324h1v1h-1zM921 323h1v1h-1zM922 321h1v2h-1zM952 315h1v1h-1zM1084 300h1v1h-1zM1085 299h1v1h-1zM1086 298h1v1h-1zM1087 297h1v1h-1zM1088 296h1v1h-1zM1089 295h1v1h-1zM1090 294h1v1h-1zM1091 293h1v1h-1zM1092 292h1v1h-1zM1093 291h1v1h-1zM1094 290h1v1h-1zM1095 289h1v1h-1zM1096 288h1v1h-1zM1097 287h1v1h-1zM1098 286h1v1h-1zM1099 285h1v1h-1zM1100 283h1v2h-1zM1101 282h1v1h-1zM1102 280h1v2h-1zM1103 279h1v1h-1zM1104 277h1v2h-1zM1105 276h1v1h-1zM1106 274h1v2h-1zM1107 273h1v1h-1zM1108 272h1v1h-1zM1109 271h1v1h-1zM1110 270h1v1h-1zM1111 269h1v1h-1zM1112 268h1v1h-1zM1113 267h1v1h-1zM1114 266h1v1h-1zM1168 258h1v1h-1zM1171 256h1v1h-1zM1174 254h1v1h-1zM1175 253h1v1h-1zM1178 251h1v1h-1zM1196 253h1v2h-1zM1197 255h1v1h-1zM1198 256h1v2h-1zM1199 258h1v1h-1zM1200 259h1v2h-1zM1201 261h1v1h-1zM1202 262h1v2h-1zM1203 264h1v1h-1zM1206 266h1v1h-1zM1207 267h1v1h-1zM1210 269h1v1h-1zM1211 270h1v1h-1zM1212 271h1v2h-1zM1213 273h1v2h-1zM1214 275h1v1h-1zM1215 276h1v2h-1zM1216 278h1v1h-1zM1217 279h1v2h-1zM1218 281h1v2h-1zM1219 283h1v2h-1zM1220 285h1v2h-1zM1221 287h1v2h-1zM1222 289h1v3h-1zM1223 292h1v2h-1zM1224 294h1v3h-1zM1225 297h1v2h-1zM1226 299h1v2h-1zM1227 301h1v2h-1zM1228 303h1v1h-1zM1229 304h1v1h-1zM1230 305h1v1h-1zM1231 306h1v2h-1zM1232 308h1v1h-1zM1233 309h1v1h-1zM1234 310h1v1h-1zM1251 319h1v1h-1zM1252 320h1v1h-1zM1253 321h1v1h-1zM1254 322h1v1h-1zM1255 323h1v2h-1zM1256 325h1v1h-1zM1257 326h1v1h-1zM1258 327h1v1h-1zM1259 328h1v1h-1zM1264 331h1v1h-1zM1380 329h1v1h-1zM1381 327h1v2h-1zM1382 326h1v1h-1zM1383 325h1v1h-1zM1384 324h1v1h-1zM1385 322h1v2h-1zM1386 321h1v1h-1zM1414 322h1v1h-1zM1415 321h1v1h-1zM1418 319h1v1h-1zM1436 318h1v2h-1zM1437 320h1v2h-1zM1438 322h1v1h-1zM1439 323h1v2h-1zM1440 325h1v1h-1zM1441 326h1v2h-1zM1442 328h1v2h-1zM1443 330h1v2h-1zM1444 332h1v3h-1zM1445 335h1v3h-1zM1446 338h1v3h-1zM1447 341h1v2h-1zM1448 343h1v3h-1zM1449 346h1v3h-1zM1450 349h1v3h-1zM1451 352h1v2h-1zM1452 354h1v1h-1zM1453 355h1v2h-1zM1454 357h1v1h-1zM1455 358h1v1h-1zM1456 359h1v1h-1zM1457 360h1v2h-1zM1458 362h1v1h-1zM1483 361h1v1h-1zM1490 357h1v1h-1z"/>
<rect x="3" y="478" width="1" height="50"/>
<rect x="1" y="491" width="5" height="32"/>
<rect x="2" y="492" width="3" height="30" fill="#fff"/>
<rect x="11" y="445" width="1" height="36"/>
<rect x="9" y="455" width="5" height="20"/>
<rect x="10" y="456" width="3" height="18" fill="#fff"/>
<rect x="19" y="422" width="1" height="34"/>
<rect x="17" y="424" width="5" height="32"/>
<rect x="18" y="425" width="3" height="30" fill="#fff"/>
<rect x="27" y="408" width="1" height="34"/>
<rect x="25" y="410" width="5" height="15"/>
<rect x="26" y="411" width="3" height="13" fill="#fff"/>
<rect x="35" y="359" width="1" height="60"/>
<rect x="33" y="385" width="5" height="25"/>
<rect x="34" y="386" width="3" height="23" fill="#fff"/>
<rect x="43" y="372" width="1" height="29"/>
<rect x="41" y="386" width="5" height="8"/>
<rect x="51" y="362" width="1" height="49"/>
<rect x="49" y="373" width="5" height="22"/>
<rect x="50" y="374" width="3" height="20" fill="#fff"/>
<rect x="59" y="368" width="1" height="69"/>
<rect x="57" y="374" width="5" height="60"/>
<rect x="67" y="399" width="1" height="37"/>
<rect x="65" y="406" width="5" height="28"/>
<rect x="66" y="407" width="3" height="26" fill="#fff"/>
<rect x="75" y="390" width="1" height="27"/>
<rect x="73" y="406" width="5" height="7"/>
<rect x="83" y="410" width="1" height="19"/>
<rect x="81" y="412" width="5" height="11"/>
<rect x="91" y="395" width="1" height="40"/>
<rect x="89" y="403" width="5" height="21"/>
<rect x="90" y="404" width="3" height="19" fill="#fff"/>
<rect x="99" y="390" width="1" height="27"/>
<rect x="97" y="404" width="5" height="12"/>
<rect x="107" y="414" width="1" height="55"/>
<rect x="105" y="423" width="5" height="26"/>
<rect x="115" y="436" width="1" height="48"/>
<rect x="113" y="448" width="5" height="15"/>
<rect x="123" y="445" width="1" height="36"/>
<rect x="121" y="447" width="5" height="18"/>
<rect x="122" y="448" width="3" height="16" fill="#fff"/>
<rect x="131" y="422" width="1" height="27"/>
<rect x="129" y="432" width="5" height="17"/>
<rect x="130" y="433" width="3" height="15" fill="#fff"/>
<rect x="139" y="432" width="1" height="18"/>
<rect x="137" y="433" width="5" height="7"/>
<rect x="147" y="434" width="1" height="71"/>
<rect x="145" y="440" width="5" height="61"/>
<rect x="155" y="476" width="1" height="34"/>
<rect x="153" y="491" width="5" height="7"/>
<rect x="154" y="492" width="3" height="5" fill="#fff"/>
<rect x="163" y="489" width="1" height="35"/>
<rect x="161" y="491" width="5" height="5"/>
<rect x="171" y="490" width="1" height="48"/>
<rect x="169" y="493" width="5" height="38"/>
<rect x="179" y="502" width="1" height="37"/>
<rect x="177" y="510" width="5" height="21"/>
<rect x="178" y="511" width="3" height="19" fill="#fff"/>
<rect x="187" y="496" width="1" height="23"/>
<rect x="185" y="509" width="5" height="8"/>
<rect x="195" y="490" width="1" height="28"/>
<rect x="193" y="516" width="5" height="1"/>
<rect x="203" y="504" width="1" height="28"/>
<rect x="201" y="517" width="5" height="4"/>
<rect x="202" y="518" width="3" height="2" fill="#fff"/>
<rect x="211" y="507" width="1" height="27"/>
<rect x="209" y="511" width="5" height="6"/>
<rect x="210" y="512" width="3" height="4" fill="#fff"/>
<rect x="219" y="479" width="1" height="42"/>
<rect x="217" y="483" width="5" height="29"/>
<rect x="218" y="484" width="3" height="27" fill="#fff"/>
<rect x="227" y="471" width="1" height="13"/>
<rect x="225" y="481" width="5" height="3"/>
<rect x="226" y="482" width="3" height="1" fill="#fff"/>
<rect x="235" y="469" width="1" height="21"/>
<rect x="233" y="474" width="5" height="8"/>
<rect x="234" y="475" width="3" height="6" fill="#fff"/>
<rect x="243" y="459" width="1" height="17"/>
<rect x="241" y="464" width="5" height="11"/>
<rect x="242" y="465" width="3" height="9" fill="#fff"/>
<rect x="251" y="447" width="1" height="36"/>
<rect x="249" y="455" width="5" height="23"/>
<rect x="250" y="456" width="3" height="21" fill="#fff"/>
<rect x="259" y="443" width="1" height="16"/>
<rect x="257" y="444" width="5" height="13"/>
<rect x="258" y="445" width="3" height="11" fill="#fff"/>
<rect x="267" y="417" width="1" height="34"/>
<rect x="265" y="422" width="5" height="23"/>
<rect x="266" y="423" width="3" height="21" fill="#fff"/>
<rect x="275" y="418" width="1" height="19"/>
<rect x="273" y="423" width="5" height="5"/>
<rect x="283" y="408" width="1" height="26"/>
<rect x="281" y="414" width="5" height="13"/>
<rect x="282" y="415" width="3" height="11" fill="#fff"/>
<rect x="291" y="394" width="1" height="32"/>
<rect x="289" y="414" width="5" height="2"/>
<rect x="299" y="357" width="1" height="68"/>
<rect x="297" y="365" width="5" height="58"/>
<rect x="298" y="366" width="3" height="56" fill="#fff"/>
<rect x="307" y="345" width="1" height="39"/>
<rect x="305" y="365" width="5" height="8"/>
<rect x="315" y="335" width="1" height="39"/>
<rect x="313" y="340" width="5" height="32"/>
<rect x="314" y="341" width="3" height="30" fill="#fff"/>
<rect x="323" y="301" width="1" height="42"/>
<rect x="321" y="305" width="5" height="35"/>
<rect x="322" y="306" width="3" height="33" fill="#fff"/>
<rect x="331" y="293" width="1" height="28"/>
<rect x="329" y="297" width="5" height="11"/>
<rect x="330" y="298" width="3" height="9" fill="#fff"/>
<rect x="339" y="290" width="1" height="22"/>
<rect x="337" y="297" width="5" height="3"/>
<rect x="347" y="249" width="1" height="57"/>
<rect x="345" y="268" width="5" height="35"/>
<rect x="346" y="269" width="3" height="33" fill="#fff"/>
<rect x="355" y="262" width="1" height="89"/>
<rect x="353" y="268" width="5" height="77"/>
<rect x="363" y="303" width="1" height="51"/>
<rect x="361" y="343" width="5" height="2"/>
<rect x="371" y="332" width="1" height="19"/>
<rect x="369" y="344" width="5" height="3"/>
<rect x="379" y="328" width="1" height="39"/>
<rect x="377" y="332" width="5" height="14"/>
<rect x="378" y="333" width="3" height="12" fill="#fff"/>
<rect x="387" y="319" width="1" height="31"/>
<rect x="385" y="332" width="5" height="14"/>
<rect x="395" y="303" width="1" height="50"/>
<rect x="393" y="315" width="5" height="21"/>
<rect x="394" y="316" width="3" height="19" fill="#fff"/>
<rect x="403" y="283" width="1" height="38"/>
<rect x="401" y="288" width="5" height="27"/>
<rect x="402" y="289" width="3" height="25" fill="#fff"/>
<rect x="411" y="277" width="1" height="28"/>
<rect x="409" y="288" width="5" height="13"/>
<rect x="419" y="295" width="1" height="14"/>
<rect x="417" y="299" width="5" height="2"/>
<rect x="427" y="290" width="1" height="19"/>
<rect x="425" y="300" width="5" height="4"/>
<rect x="435" y="265" width="1" height="49"/>
<rect x="433" y="292" width="5" height="13"/>
<rect x="434" y="293" width="3" height="11" fill="#fff"/>
<rect x="443" y="259" width="1" height="58"/>
<rect x="441" y="265" width="5" height="27"/>
<rect x="442" y="266" width="3" height="25" fill="#fff"/>
<rect x="451" y="245" width="1" height="36"/>
<rect x="449" y="257" width="5" height="10"/>
<rect x="450" y="258" width="3" height="8" fill="#fff"/>
<rect x="459" y="238" width="1" height="22"/>
<rect x="457" y="242" width="5" height="16"/>
<rect x="458" y="243" width="3" height="14" fill="#fff"/>
<rect x="467" y="228" width="1" height="18"/>
<rect x="465" y="236" width="5" height="7"/>
<rect x="466" y="237" width="3" height="5" fill="#fff"/>
<rect x="475" y="231" width="1" height="7"/>
<rect x="473" y="232" width="5" height="4"/>
<rect x="474" y="233" width="3" height="2" fill="#fff"/>
<rect x="483" y="200" width="1" height="87"/>
<rect x="481" y="224" width="5" height="35"/>
<rect x="491" y="258" width="1" height="62"/>
<rect x="489" y="259" width="5" height="50"/>
<rect x="499" y="259" width="1" height="55"/>
<rect x="497" y="271" width="5" height="38"/>
<rect x="498" y="272" width="3" height="36" fill="#fff"/>
<rect x="507" y="269" width="1" height="37"/>
<rect x="505" y="271" width="5" height="7"/>
<rect x="515" y="273" width="1" height="54"/>
<rect x="513" y="278" width="5" height="27"/>
<rect x="523" y="296" width="1" height="45"/>
<rect x="521" y="298" width="5" height="7"/>
<rect x="522" y="299" width="3" height="5" fill="#fff"/>
<rect x="531" y="222" width="1" height="92"/>
<rect x="529" y="229" width="5" height="85"/>
<rect x="530" y="230" width="3" height="83" fill="#fff"/>
<rect x="539" y="216" width="1" height="30"/>
<rect x="537" y="229" width="5" height="2"/>
<rect x="547" y="211" width="1" height="43"/>
<rect x="545" y="215" width="5" height="15"/>
<rect x="546" y="216" width="3" height="13" fill="#fff"/>
<rect x="555" y="196" width="1" height="21"/>
<rect x="553" y="206" width="5" height="11"/>
<rect x="554" y="207" width="3" height="9" fill="#fff"/>
<rect x="563" y="193" width="1" height="25"/>
<rect x="561" y="203" width="5" height="5"/>
<rect x="562" y="204" width="3" height="3" fill="#fff"/>
<rect x="571" y="196" width="1" height="27"/>
<rect x="569" y="203" width="5" height="8"/>
<rect x="579" y="204" width="1" height="52"/>
<rect x="577" y="213" width="5" height="30"/>
<rect x="587" y="218" width="1" height="32"/>
<rect x="585" y="236" width="5" height="8"/>
<rect x="586" y="237" width="3" height="6" fill="#fff"/>
<rect x="595" y="209" width="1" height="29"/>
<rect x="593" y="222" width="5" height="15"/>
<rect x="594" y="223" width="3" height="13" fill="#fff"/>
<rect x="603" y="220" width="1" height="24"/>
<rect x="601" y="224" width="5" height="15"/>
<rect x="611" y="215" width="1" height="34"/>
<rect x="609" y="226" width="5" height="14"/>
<rect x="610" y="227" width="3" height="12" fill="#fff"/>
<rect x="619" y="213" width="1" height="22"/>
<rect x="617" y="216" width="5" height="11"/>
<rect x="618" y="217" width="3" height="9" fill="#fff"/>
<rect x="627" y="209" width="1" height="41"/>
<rect x="625" y="218" width="5" height="8"/>
<rect x="635" y="204" width="1" height="42"/>
<rect x="633" y="226" width="5" height="4"/>
<rect x="643" y="217" width="1" height="22"/>
<rect x="641" y="228" width="5" height="2"/>
<rect x="651" y="218" width="1" height="14"/>
<rect x="649" y="229" width="5" height="1"/>
<rect x="659" y="221" width="1" height="18"/>
<rect x="657" y="229" width="5" height="2"/>
<rect x="667" y="222" width="1" height="34"/>
<rect x="665" y="230" width="5" height="12"/>
<rect x="675" y="229" width="1" height="32"/>
<rect x="673" y="246" width="5" height="10"/>
<rect x="683" y="236" width="1" height="30"/>
<rect x="681" y="239" width="5" height="15"/>
<rect x="682" y="240" width="3" height="13" fill="#fff"/>
<rect x="691" y="225" width="1" height="22"/>
<rect x="689" y="231" width="5" height="10"/>
<rect x="690" y="232" width="3" height="8" fill="#fff"/>
<rect x="699" y="228" width="1" height="20"/>
<rect x="697" y="232" width="5" height="8"/>
<rect x="707" y="215" width="1" height="29"/>
<rect x="705" y="222" width="5" height="19"/>
<rect x="706" y="223" width="3" height="17" fill="#fff"/>
<rect x="715" y="217" width="1" height="13"/>
<rect x="713" y="219" width="5" height="3"/>
<rect x="714" y="220" width="3" height="1" fill="#fff"/>
<rect x="723" y="197" width="1" height="66"/>
<rect x="721" y="203" width="5" height="51"/>
<rect x="731" y="253" width="1" height="45"/>
<rect x="729" y="255" width="5" height="32"/>
<rect x="739" y="279" width="1" height="58"/>
<rect x="737" y="286" width="5" height="34"/>
<rect x="747" y="292" width="1" height="32"/>
<rect x="745" y="309" width="5" height="11"/>
<rect x="746" y="310" width="3" height="9" fill="#fff"/>
<rect x="755" y="292" width="1" height="23"/>
<rect x="753" y="307" width="5" height="2"/>
<rect x="763" y="305" width="1" height="29"/>
<rect x="761" y="307" width="5" height="26"/>
<rect x="771" y="293" width="1" height="45"/>
<rect x="769" y="302" width="5" height="24"/>
<rect x="770" y="303" width="3" height="22" fill="#fff"/>
<rect x="779" y="291" width="1" height="30"/>
<rect x="777" y="300" width="5" height="3"/>
<rect x="778" y="301" width="3" height="1" fill="#fff"/>
<rect x="787" y="288" width="1" height="27"/>
<rect x="785" y="300" width="5" height="10"/>
<rect x="795" y="309" width="1" height="20"/>
<rect x="793" y="309" width="5" height="4"/>
<rect x="803" y="289" width="1" height="32"/>
<rect x="801" y="291" width="5" height="22"/>
<rect x="802" y="292" width="3" height="20" fill="#fff"/>
<rect x="811" y="280" width="1" height="15"/>
<rect x="809" y="291" width="5" height="1"/>
<rect x="819" y="230" width="1" height="66"/>
<rect x="817" y="257" width="5" height="32"/>
<rect x="818" y="258" width="3" height="30" fill="#fff"/>
<rect x="827" y="227" width="1" height="31"/>
<rect x="825" y="234" width="5" height="23"/>
<rect x="826" y="235" width="3" height="21" fill="#fff"/>
<rect x="835" y="206" width="1" height="30"/>
<rect x="833" y="219" width="5" height="14"/>
<rect x="834" y="220" width="3" height="12" fill="#fff"/>
<rect x="843" y="217" width="1" height="21"/>
<rect x="841" y="219" width="5" height="9"/>
<rect x="851" y="227" width="1" height="35"/>
<rect x="849" y="228" width="5" height="28"/>
<rect x="859" y="255" width="1" height="46"/>
<rect x="857" y="256" width="5" height="12"/>
<rect x="867" y="250" width="1" height="24"/>
<rect x="865" y="260" width="5" height="13"/>
<rect x="866" y="261" width="3" height="11" fill="#fff"/>
<rect x="875" y="226" width="1" height="36"/>
<rect x="873" y="245" width="5" height="16"/>
<rect x="874" y="246" width="3" height="14" fill="#fff"/>
<rect x="883" y="237" width="1" height="33"/>
<rect x="881" y="245" width="5" height="2"/>
<rect x="891" y="239" width="1" height="34"/>
<rect x="889" y="245" width="5" height="25"/>
<rect x="899" y="243" width="1" height="34"/>
<rect x="897" y="255" width="5" height="15"/>
<rect x="898" y="256" width="3" height="13" fill="#fff"/>
<rect x="907" y="242" width="1" height="19"/>
<rect x="905" y="256" width="5" height="3"/>
<rect x="915" y="231" width="1" height="63"/>
<rect x="913" y="257" width="5" height="22"/>
<rect x="923" y="261" width="1" height="31"/>
<rect x="921" y="271" width="5" height="8"/>
<rect x="922" y="272" width="3" height="6" fill="#fff"/>
<rect x="931" y="270" width="1" height="44"/>
<rect x="929" y="271" width="5" height="34"/>
<rect x="939" y="297" width="1" height="22"/>
<rect x="937" y="298" width="5" height="8"/>
<rect x="938" y="299" width="3" height="6" fill="#fff"/>
<rect x="947" y="288" width="1" height="22"/>
<rect x="945" y="299" width="5" height="4"/>
<rect x="955" y="278" width="1" height="26"/>
<rect x="953" y="282" width="5" height="20"/>
<rect x="954" y="283" width="3" height="18" fill="#fff"/>
<rect x="963" y="222" width="1" height="58"/>
<rect x="961" y="229" width="5" height="23"/>
<rect x="962" y="230" width="3" height="21" fill="#fff"/>
<rect x="971" y="226" width="1" height="33"/>
<rect x="969" y="230" width="5" height="23"/>
<rect x="979" y="228" width="1" height="29"/>
<rect x="977" y="240" width="5" height="14"/>
<rect x="978" y="241" width="3" height="12" fill="#fff"/>
<rect x="987" y="231" width="1" height="13"/>
<rect x="985" y="241" width="5" height="2"/>
<rect x="995" y="230" width="1" height="24"/>
<rect x="993" y="243" width="5" height="3"/>
<rect x="1003" y="242" width="1" height="24"/>
<rect x="1001" y="246" width="5" height="16"/>
<rect x="1011" y="251" width="1" height="24"/>
<rect x="1009" y="263" width="5" height="6"/>
<rect x="1019" y="259" width="1" height="23"/>
<rect x="1017" y="265" width="5" height="5"/>
<rect x="1018" y="266" width="3" height="3" fill="#fff"/>
<rect x="1027" y="235" width="1" height="32"/>
<rect x="1025" y="241" width="5" height="26"/>
<rect x="1026" y="242" width="3" height="24" fill="#fff"/>
<rect x="1035" y="237" width="1" height="11"/>
<rect x="1033" y="239" width="5" height="3"/>
<rect x="1034" y="240" width="3" height="1" fill="#fff"/>
<rect x="1043" y="234" width="1" height="18"/>
<rect x="1041" y="234" width="5" height="6"/>
<rect x="1042" y="235" width="3" height="4" fill="#fff"/>
<rect x="1051" y="228" width="1" height="10"/>
<rect x="1049" y="232" width="5" height="4"/>
<rect x="1059" y="221" width="1" height="28"/>
<rect x="1057" y="227" width="5" height="21"/>
<rect x="1067" y="238" width="1" height="19"/>
<rect x="1065" y="247" width="5" height="2"/>
<rect x="1075" y="234" width="1" height="19"/>
<rect x="1073" y="242" width="5" height="7"/>
<rect x="1074" y="243" width="3" height="5" fill="#fff"/>
<rect x="1083" y="236" width="1" height="14"/>
<rect x="1081" y="243" width="5" height="5"/>
<rect x="1091" y="239" width="1" height="14"/>
<rect x="1089" y="241" width="5" height="8"/>
<rect x="1090" y="242" width="3" height="6" fill="#fff"/>
<rect x="1099" y="232" width="1" height="18"/>
<rect x="1097" y="232" width="5" height="11"/>
<rect x="1098" y="233" width="3" height="9" fill="#fff"/>
<rect x="1107" y="231" width="1" height="35"/>
<rect x="1105" y="238" width="5" height="9"/>
<rect x="1115" y="229" width="1" height="24"/>
<rect x="1113" y="235" width="5" height="12"/>
<rect x="1114" y="236" width="3" height="10" fill="#fff"/>
<rect x="1123" y="222" width="1" height="18"/>
<rect x="1121" y="235" width="5" height="2"/>
<rect x="1131" y="230" width="1" height="10"/>
<rect x="1129" y="236" width="5" height="2"/>
<rect x="1139" y="229" width="1" height="12"/>
<rect x="1137" y="235" width="5" height="2"/>
<rect x="1147" y="231" width="1" height="11"/>
<rect x="1145" y="236" width="5" height="2"/>
<rect x="1155" y="234" width="1" height="16"/>
<rect x="1153" y="241" width="5" height="2"/>
<rect x="1163" y="241" width="1" height="18"/>
<rect x="1161" y="242" width="5" height="6"/>
<rect x="1171" y="218" width="1" height="33"/>
<rect x="1169" y="229" width="5" height="18"/>
<rect x="1170" y="230" width="3" height="16" fill="#fff"/>
<rect x="1179" y="226" width="1" height="14"/>
<rect x="1177" y="228" width="5" height="12"/>
<rect x="1187" y="235" width="1" height="17"/>
<rect x="1185" y="240" width="5" height="6"/>
<rect x="1195" y="238" width="1" height="22"/>
<rect x="1193" y="242" width="5" height="4"/>
<rect x="1194" y="243" width="3" height="2" fill="#fff"/>
<rect x="1203" y="216" width="1" height="84"/>
<rect x="1201" y="225" width="5" height="65"/>
<rect x="1211" y="253" width="1" height="38"/>
<rect x="1209" y="259" width="5" height="32"/>
<rect x="1210" y="260" width="3" height="30" fill="#fff"/>
<rect x="1219" y="255" width="1" height="55"/>
<rect x="1217" y="258" width="5" height="50"/>
<rect x="1227" y="308" width="1" height="58"/>
<rect x="1225" y="308" width="5" height="30"/>
<rect x="1235" y="301" width="1" height="44"/>
<rect x="1233" y="302" width="5" height="36"/>
<rect x="1234" y="303" width="3" height="34" fill="#fff"/>
<rect x="1243" y="282" width="1" height="22"/>
<rect x="1241" y="290" width="5" height="13"/>
<rect x="1242" y="291" width="3" height="11" fill="#fff"/>
<rect x="1251" y="271" width="1" height="43"/>
<rect x="1249" y="279" width="5" height="14"/>
<rect x="1250" y="280" width="3" height="12" fill="#fff"/>
<rect x="1259" y="270" width="1" height="64"/>
<rect x="1257" y="280" width="5" height="46"/>
<rect x="1267" y="292" width="1" height="41"/>
<rect x="1265" y="307" width="5" height="18"/>
<rect x="1266" y="308" width="3" height="16" fill="#fff"/>
<rect x="1275" y="291" width="1" height="21"/>
<rect x="1273" y="294" width="5" height="14"/>
<rect x="1274" y="295" width="3" height="12" fill="#fff"/>
<rect x="1283" y="280" width="1" height="30"/>
<rect x="1281" y="288" width="5" height="7"/>
<rect x="1282" y="289" width="3" height="5" fill="#fff"/>
<rect x="1291" y="271" width="1" height="23"/>
<rect x="1289" y="288" width="5" height="4"/>
<rect x="1299" y="273" width="1" height="49"/>
<rect x="1297" y="293" width="5" height="13"/>
<rect x="1307" y="289" width="1" height="25"/>
<rect x="1305" y="301" width="5" height="5"/>
<rect x="1306" y="302" width="3" height="3" fill="#fff"/>
<rect x="1315" y="274" width="1" height="29"/>
<rect x="1313" y="281" width="5" height="20"/>
<rect x="1314" y="282" width="3" height="18" fill="#fff"/>
<rect x="1323" y="272" width="1" height="16"/>
<rect x="1321" y="273" width="5" height="8"/>
<rect x="1322" y="274" width="3" height="6" fill="#fff"/>
<rect x="1331" y="250" width="1" height="25"/>
<rect x="1329" y="255" width="5" height="19"/>
<rect x="1330" y="256" width="3" height="17" fill="#fff"/>
<rect x="1339" y="247" width="1" height="20"/>
<rect x="1337" y="253" width="5" height="5"/>
<rect x="1347" y="248" width="1" height="35"/>
<rect x="1345" y="259" width="5" height="8"/>
<rect x="1355" y="263" width="1" height="16"/>
<rect x="1353" y="268" width="5" height="2"/>
<rect x="1363" y="256" width="1" height="15"/>
<rect x="1361" y="261" width="5" height="9"/>
<rect x="1362" y="262" width="3" height="7" fill="#fff"/>
<rect x="1371" y="260" width="1" height="6"/>
<rect x="1369" y="262" width="5" height="1"/>
<rect x="1379" y="258" width="1" height="15"/>
<rect x="1377" y="260" width="5" height="8"/>
<rect x="1387" y="267" width="1" height="3"/>
<rect x="1385" y="267" width="5" height="3"/>
<rect x="1395" y="243" width="1" height="27"/>
<rect x="1393" y="248" width="5" height="14"/>
<rect x="1394" y="249" width="3" height="12" fill="#fff"/>
<rect x="1403" y="227" width="1" height="25"/>
<rect x="1401" y="228" width="5" height="21"/>
<rect x="1402" y="229" width="3" height="19" fill="#fff"/>
<rect x="1411" y="220" width="1" height="12"/>
<rect x="1409" y="226" width="5" height="3"/>
<rect x="1410" y="227" width="3" height="1" fill="#fff"/>
<rect x="1419" y="216" width="1" height="12"/>
<rect x="1417" y="219" width="5" height="9"/>
<rect x="1418" y="220" width="3" height="7" fill="#fff"/>
<rect x="1427" y="196" width="1" height="29"/>
<rect x="1425" y="201" width="5" height="18"/>
<rect x="1426" y="202" width="3" height="16" fill="#fff"/>
<rect x="1435" y="201" width="1" height="11"/>
<rect x="1433" y="203" width="5" height="3"/>
<rect x="1443" y="119" width="1" height="92"/>
<rect x="1441" y="130" width="5" height="75"/>
<rect x="1442" y="131" width="3" height="73" fill="#fff"/>
<rect x="1451" y="51" width="1" height="82"/>
<rect x="1449" y="55" width="5" height="74"/>
<rect x="1450" y="56" width="3" height="72" fill="#fff"/>
<rect x="1459" y="29" width="1" height="40"/>
<rect x="1457" y="43" width="5" height="13"/>
<rect x="1458" y="44" width="3" height="11" fill="#fff"/>
<rect x="1467" y="32" width="1" height="17"/>
<rect x="1465" y="43" width="5" height="1"/>
<rect x="1475" y="39" width="1" height="43"/>
<rect x="1473" y="42" width="5" height="32"/>
<rect x="1483" y="62" width="1" height="15"/>
<rect x="1481" y="68" width="5" height="6"/>
<rect x="1482" y="69" width="3" height="4" fill="#fff"/>
<rect x="1491" y="48" width="1" height="62"/>
<rect x="1489" y="69" width="5" height="41"/>
</g>
<g clip-path="url(#cs)">
<rect x="3" y="639" width="1" height="119" fill="#00008b"/>
<rect x="11" y="630" width="1" height="128" fill="#00008b"/>
<rect x="19" y="614" width="1" height="144" fill="#00008b"/>
<rect x="27" y="600" width="1" height="158" fill="#00008b"/>
<rect x="35" y="584" width="1" height="174" fill="#00008b"/>
<rect x="43" y="576" width="1" height="182" fill="#00008b"/>
<rect x="51" y="568" width="1" height="190" fill="#00008b"/>
<rect x="59" y="577" width="1" height="181" fill="#00008b"/>
<rect x="67" y="580" width="1" height="178" fill="#00008b"/>
<rect x="75" y="586" width="1" height="172" fill="#00008b"/>
<rect x="83" y="596" width="1" height="162" fill="#00008b"/>
<rect x="91" y="600" width="1" height="158" fill="#00008b"/>
<rect x="99" y="609" width="1" height="149" fill="#00008b"/>
<rect x="107" y="626" width="1" height="132" fill="#00008b"/>
<rect x="115" y="643" width="1" height="115" fill="#00008b"/>
<rect x="123" y="655" width="1" height="103" fill="#00008b"/>
<rect x="131" y="661" width="1" height="97" fill="#00008b"/>
<rect x="139" y="670" width="1" height="88" fill="#00008b"/>
<rect x="147" y="693" width="1" height="65" fill="#00008b"/>
<rect x="155" y="710" width="1" height="48" fill="#00008b"/>
<rect x="163" y="724" width="1" height="34" fill="#00008b"/>
<rect x="171" y="744" width="1" height="14" fill="#00008b"/>
<rect x="179" y="756" width="1" height="2" fill="#00008b"/>
<rect x="187" y="757" width="1" height="10" fill="#00008b"/>
<rect x="195" y="757" width="1" height="18" fill="#00008b"/>
<rect x="203" y="757" width="1" height="24" fill="#00008b"/>
<rect x="211" y="757" width="1" height="28" fill="#00008b"/>
<rect x="219" y="757" width="1" height="23" fill="#00008b"/>
<rect x="227" y="757" width="1" height="18" fill="#00008b"/>
<rect x="235" y="757" width="1" height="12" fill="#00008b"/>
<rect x="243" y="757" width="1" height="5" fill="#00008b"/>
<rect x="251" y="754" width="1" height="4" fill="#00008b"/>
<rect x="259" y="744" width="1" height="14" fill="#00008b"/>
<rect x="267" y="731" width="1" height="27" fill="#00008b"/>
<rect x="275" y="723" width="1" height="35" fill="#00008b"/>
<rect x="283" y="713" width="1" height="45" fill="#00008b"/>
<rect x="291" y="706" width="1" height="52" fill="#00008b"/>
<rect x="299" y="690" width="1" height="68" fill="#00008b"/>
<rect x="307" y="677" width="1" height="81" fill="#00008b"/>
<rect x="315" y="661" width="1" height="97" fill="#00008b"/>
<rect x="323" y="641" width="1" height="117" fill="#00008b"/>
<rect x="331" y="624" width="1" height="134" fill="#00008b"/>
<rect x="339" y="612" width="1" height="146" fill="#00008b"/>
<rect x="347" y="596" width="1" height="162" fill="#00008b"/>
<rect x="355" y="606" width="1" height="152" fill="#00008b"/>
<rect x="363" y="615" width="1" height="143" fill="#00008b"/>
<rect x="371" y="625" width="1" height="133" fill="#00008b"/>
<rect x="379" y="630" width="1" height="128" fill="#00008b"/>
<rect x="387" y="639" width="1" height="119" fill="#00008b"/>
<rect x="395" y="640" width="1" height="118" fill="#00008b"/>
<rect x="403" y="635" width="1" height="123" fill="#00008b"/>
<rect x="411" y="635" width="1" height="123" fill="#00008b"/>
<rect x="419" y="637" width="1" height="121" fill="#00008b"/>
<rect x="427" y="640" width="1" height="118" fill="#00008b"/>
<rect x="435" y="641" width="1" height="117" fill="#00008b"/>
<rect x="443" y="636" width="1" height="122" fill="#00008b"/>
<rect x="451" y="632" width="1" height="126" fill="#00008b"/>
<rect x="459" y="626" width="1" height="132" fill="#00008b"/>
<rect x="467" y="621" width="1" height="137" fill="#00008b"/>
<rect x="475" y="618" width="1" height="140" fill="#00008b"/>
<rect x="483" y="625" width="1" height="133" fill="#00008b"/>
<rect x="491" y="643" width="1" height="115" fill="#00008b"/>
<rect x="499" y="650" width="1" height="108" fill="#00008b"/>
<rect x="507" y="658" width="1" height="100" fill="#00008b"/>
<rect x="515" y="672" width="1" height="86" fill="#00008b"/>
<rect x="523" y="683" width="1" height="75" fill="#00008b"/>
<rect x="531" y="674" width="1" height="84" fill="#00008b"/>
<rect x="539" y="669" width="1" height="89" fill="#00008b"/>
<rect x="547" y="661" width="1" height="97" fill="#00008b"/>
<rect x="555" y="654" width="1" height="104" fill="#00008b"/>
<rect x="563" y="649" width="1" height="109" fill="#00008b"/>
<rect x="571" y="648" width="1" height="110" fill="#00008b"/>
<rect x="579" y="657" width="1" height="101" fill="#00008b"/>
<rect x="587" y="664" width="1" height="94" fill="#00008b"/>
<rect x="595" y="666" width="1" height="92" fill="#00008b"/>
<rect x="603" y="673" width="1" height="85" fill="#00008b"/>
<rect x="611" y="677" width="1" height="81" fill="#00008b"/>
<rect x="619" y="678" width="1" height="80" fill="#00008b"/>
<rect x="627" y="682" width="1" height="76" fill="#00008b"/>
<rect x="635" y="687" width="1" height="71" fill="#00008b"/>
<rect x="643" y="692" width="1" height="66" fill="#00008b"/>
<rect x="651" y="696" width="1" height="62" fill="#00008b"/>
<rect x="659" y="701" width="1" height="57" fill="#00008b"/>
<rect x="667" y="708" width="1" height="50" fill="#00008b"/>
<rect x="675" y="718" width="1" height="40" fill="#00008b"/>
<rect x="683" y="721" width="1" height="37" fill="#00008b"/>
<rect x="691" y="723" width="1" height="35" fill="#00008b"/>
<rect x="699" y="726" width="1" height="32" fill="#00008b"/>
<rect x="707" y="725" width="1" height="33" fill="#00008b"/>
<rect x="715" y="724" width="1" height="34" fill="#00008b"/>
<rect x="723" y="732" width="1" height="26" fill="#00008b"/>
<rect x="731" y="748" width="1" height="10" fill="#00008b"/>
<rect x="739" y="757" width="1" height="11" fill="#00008b"/>
<rect x="747" y="757" width="1" height="25" fill="#00008b"/>
<rect x="755" y="757" width="1" height="35" fill="#00008b"/>
<rect x="763" y="757" width="1" height="49" fill="#00008b"/>
<rect x="771" y="757" width="1" height="51" fill="#00008b"/>
<rect x="779" y="757" width="1" height="52" fill="#00008b"/>
<rect x="787" y="757" width="1" height="55" fill="#00008b"/>
<rect x="795" y="757" width="1" height="57" fill="#00008b"/>
<rect x="803" y="757" width="1" height="53" fill="#00008b"/>
<rect x="811" y="757" width="1" height="48" fill="#00008b"/>
<rect x="819" y="757" width="1" height="35" fill="#00008b"/>
<rect x="827" y="757" width="1" height="18" fill="#00008b"/>
<rect x="835" y="757" width="1" height="2" fill="#00008b"/>
<rect x="843" y="747" width="1" height="11" fill="#00008b"/>
<rect x="851" y="746" width="1" height="12" fill="#00008b"/>
<rect x="859" y="748" width="1" height="10" fill="#00008b"/>
<rect x="867" y="748" width="1" height="10" fill="#00008b"/>
<rect x="875" y="744" width="1" height="14" fill="#00008b"/>
<rect x="883" y="742" width="1" height="16" fill="#00008b"/>
<rect x="891" y="746" width="1" height="12" fill="#00008b"/>
<rect x="899" y="745" width="1" height="13" fill="#00008b"/>
<rect x="907" y="746" width="1" height="12" fill="#00008b"/>
<rect x="915" y="752" width="1" height="6" fill="#00008b"/>
<rect x="923" y="755" width="1" height="3" fill="#00008b"/>
<rect x="931" y="757" width="1" height="10" fill="#00008b"/>
<rect x="939" y="757" width="1" height="17" fill="#00008b"/>
<rect x="947" y="757" width="1" height="24" fill="#00008b"/>
<rect x="955" y="757" width="1" height="24" fill="#00008b"/>
<rect x="963" y="757" width="1" height="8" fill="#00008b"/>
<rect x="971" y="757" width="1" height="3" fill="#00008b"/>
<rect x="979" y="752" width="1" height="6" fill="#00008b"/>
<rect x="987" y="746" width="1" height="12" fill="#00008b"/>
<rect x="995" y="743" width="1" height="15" fill="#00008b"/>
<rect x="1003" y="745" width="1" height="13" fill="#00008b"/>
<rect x="1011" y="748" width="1" height="10" fill="#00008b"/>
<rect x="1019" y="750" width="1" height="8" fill="#00008b"/>
<rect x="1027" y="746" width="1" height="12" fill="#00008b"/>
<rect x="1035" y="742" width="1" height="16" fill="#00008b"/>
<rect x="1043" y="737" width="1" height="21" fill="#00008b"/>
<rect x="1051" y="734" width="1" height="24" fill="#00008b"/>
<rect x="1059" y="735" width="1" height="23" fill="#00008b"/>
<rect x="1067" y="737" width="1" height="21" fill="#00008b"/>
<rect x="1075" y="737" width="1" height="21" fill="#00008b"/>
<rect x="1083" y="738" width="1" height="20" fill="#00008b"/>
<rect x="1091" y="738" width="1" height="20" fill="#00008b"/>
<rect x="1099" y="737" width="1" height="21" fill="#00008b"/>
<rect x="1107" y="737" width="1" height="21" fill="#00008b"/>
<rect x="1115" y="736" width="1" height="22" fill="#00008b"/>
<rect x="1123" y="737" width="1" height="21" fill="#00008b"/>
<rect x="1131" y="737" width="1" height="21" fill="#00008b"/>
<rect x="1139" y="737" width="1" height="21" fill="#00008b"/>
<rect x="1147" y="737" width="1" height="21" fill="#00008b"/>
<rect x="1155" y="739" width="1" height="19" fill="#00008b"/>
<rect x="1163" y="742" width="1" height="16" fill="#00008b"/>
<rect x="1171" y="740" width="1" height="18" fill="#00008b"/>
<rect x="1179" y="741" width="1" height="17" fill="#00008b"/>
<rect x="1187" y="744" width="1" height="14" fill="#00008b"/>
<rect x="1195" y="746" width="1" height="12" fill="#00008b"/>
<rect x="1203" y="757" width="1" height="3" fill="#00008b"/>
<rect x="1211" y="757" width="1" height="6" fill="#00008b"/>
<rect x="1219" y="757" width="1" height="21" fill="#00008b"/>
<rect x="1227" y="757" width="1" height="39" fill="#00008b"/>
<rect x="1235" y="757" width="1" height="45" fill="#00008b"/>
<rect x="1243" y="757" width="1" height="46" fill="#00008b"/>
<rect x="1251" y="757" width="1" height="43" fill="#00008b"/>
<rect x="1259" y="757" width="1" height="52" fill="#00008b"/>
<rect x="1267" y="757" width="1" height="54" fill="#00008b"/>
<rect x="1275" y="757" width="1" height="52" fill="#00008b"/>
<rect x="1283" y="757" width="1" height="48" fill="#00008b"/>
<rect x="1291" y="757" width="1" height="46" fill="#00008b"/>
<rect x="1299" y="757" width="1" height="46" fill="#00008b"/>
<rect x="1307" y="757" width="1" height="45" fill="#00008b"/>
<rect x="1315" y="757" width="1" height="39" fill="#00008b"/>
<rect x="1323" y="757" width="1" height="31" fill="#00008b"/>
<rect x="1331" y="757" width="1" height="20" fill="#00008b"/>
<rect x="1339" y="757" width="1" height="12" fill="#00008b"/>
<rect x="1347" y="757" width="1" height="8" fill="#00008b"/>
<rect x="1355" y="757" width="1" height="5" fill="#00008b"/>
<rect x="1371" y="754" width="1" height="4" fill="#00008b"/>
<rect x="1379" y="753" width="1" height="5" fill="#00008b"/>
<rect x="1387" y="753" width="1" height="5" fill="#00008b"/>
<rect x="1395" y="747" width="1" height="11" fill="#00008b"/>
<rect x="1403" y="739" width="1" height="19" fill="#00008b"/>
<rect x="1411" y="730" width="1" height="28" fill="#00008b"/>
<rect x="1419" y="723" width="1" height="35" fill="#00008b"/>
<rect x="1427" y="713" width="1" height="45" fill="#00008b"/>
<rect x="1435" y="706" width="1" height="52" fill="#00008b"/>
<rect x="1443" y="682" width="1" height="76" fill="#00008b"/>
<rect x="1451" y="646" width="1" height="112" fill="#00008b"/>
<rect x="1459" y="614" width="1" height="144" fill="#00008b"/>
<rect x="1467" y="591" width="1" height="167" fill="#00008b"/>
<rect x="1475" y="582" width="1" height="176" fill="#00008b"/>
<rect x="1483" y="576" width="1" height="182" fill="#00008b"/>
<rect x="1491" y="584" width="1" height="174" fill="#00008b"/>
<path fill="#000" d="M88 585h8v1h-8zM83 586h5v1h-5zM96 586h5v1h-5zM81 587h2v1h-2zM101 587h2v1h-2zM79 588h2v1h-2zM103 588h2v1h-2zM77 589h2v1h-2zM105 589h2v1h-2zM75 590h2v1h-2zM72 592h2v1h-2zM110 593h2v1h-2zM68 595h2v1h-2zM62 600h2v1h-2zM54 607h2v1h-2zM46 614h2v1h-2zM40 619h2v1h-2zM11 621h2v1h-2zM384 621h16v1h-16zM13 622h2v1h-2zM36 622h2v1h-2zM379 622h5v1h-5zM400 622h5v1h-5zM15 623h2v1h-2zM34 623h2v1h-2zM405 623h3v1h-3zM17 624h2v1h-2zM32 624h2v1h-2zM376 624h2v1h-2zM408 624h2v1h-2zM19 625h5v1h-5zM29 625h3v1h-3zM410 625h3v1h-3zM24 626h5v1h-5zM413 626h2v1h-2zM372 627h2v1h-2zM415 627h2v1h-2zM417 628h2v1h-2zM419 629h2v1h-2zM421 630h2v1h-2zM423 631h2v1h-2zM480 631h16v1h-16zM366 632h2v1h-2zM425 632h2v1h-2zM474 632h6v1h-6zM496 632h6v1h-6zM427 633h2v1h-2zM470 633h4v1h-4zM502 633h4v1h-4zM429 634h3v1h-3zM466 634h4v1h-4zM506 634h3v1h-3zM432 635h2v1h-2zM462 635h4v1h-4zM509 635h2v1h-2zM434 636h6v1h-6zM456 636h6v1h-6zM511 636h2v1h-2zM440 637h16v1h-16zM513 637h2v1h-2zM516 639h2v1h-2zM520 642h2v1h-2zM524 645h2v1h-2zM528 648h2v1h-2zM532 651h2v1h-2zM534 652h2v1h-2zM537 654h2v1h-2zM539 655h2v1h-2zM541 656h2v1h-2zM543 657h2v1h-2zM545 658h2v1h-2zM547 659h2v1h-2zM549 660h2v1h-2zM592 660h16v1h-16zM551 661h2v1h-2zM586 661h6v1h-6zM608 661h6v1h-6zM553 662h2v1h-2zM582 662h4v1h-4zM614 662h4v1h-4zM555 663h27v1h-27zM618 663h3v1h-3zM621 664h3v1h-3zM624 665h2v1h-2zM626 666h3v1h-3zM629 667h2v1h-2zM631 668h2v1h-2zM633 669h2v1h-2zM636 671h2v1h-2zM638 672h2v1h-2zM641 674h2v1h-2zM643 675h2v1h-2zM645 676h2v1h-2zM647 677h2v1h-2zM649 678h2v1h-2zM651 679h2v1h-2zM653 680h2v1h-2zM655 681h2v1h-2zM657 682h2v1h-2zM659 683h2v1h-2zM661 684h2v1h-2zM663 685h2v1h-2zM665 686h2v1h-2zM668 688h2v1h-2zM670 689h2v1h-2zM673 691h2v1h-2zM676 693h2v1h-2zM678 694h2v1h-2zM681 696h2v1h-2zM684 698h2v1h-2zM686 699h2v1h-2zM689 701h2v1h-2zM692 703h2v1h-2zM694 704h2v1h-2zM697 706h2v1h-2zM699 707h2v1h-2zM701 708h2v1h-2zM703 709h2v1h-2zM705 710h2v1h-2zM707 711h2v1h-2zM709 712h2v1h-2zM711 713h2v1h-2zM713 714h2v1h-2zM715 715h2v1h-2zM717 716h2v1h-2zM719 717h2v1h-2zM721 718h2v1h-2zM724 720h2v1h-2zM728 723h2v1h-2zM734 728h2v1h-2zM742 735h2v1h-2zM1112 736h8v1h-8zM1096 737h16v1h-16zM1120 737h56v1h-56zM1432 737h2v1h-2zM1088 738h8v1h-8zM1176 738h8v1h-8zM1082 739h6v1h-6zM1184 739h8v1h-8zM1078 740h4v1h-4zM1192 740h5v1h-5zM1428 740h2v1h-2zM1072 741h6v1h-6zM1197 741h3v1h-3zM750 742h2v1h-2zM1056 742h16v1h-16zM1200 742h2v1h-2zM1425 742h2v1h-2zM1050 743h6v1h-6zM1202 743h3v1h-3zM1046 744h4v1h-4zM1205 744h3v1h-3zM1422 744h2v1h-2zM1042 745h4v1h-4zM1208 745h2v1h-2zM1420 745h2v1h-2zM904 746h16v1h-16zM1040 746h2v1h-2zM1210 746h3v1h-3zM898 747h6v1h-6zM920 747h6v1h-6zM1037 747h3v1h-3zM1213 747h2v1h-2zM1417 747h2v1h-2zM896 748h2v1h-2zM926 748h4v1h-4zM1034 748h3v1h-3zM1215 748h2v1h-2zM1415 748h2v1h-2zM893 749h3v1h-3zM930 749h3v1h-3zM1030 749h4v1h-4zM1217 749h2v1h-2zM1413 749h2v1h-2zM891 750h2v1h-2zM933 750h3v1h-3zM1027 750h3v1h-3zM1411 750h2v1h-2zM889 751h2v1h-2zM936 751h2v1h-2zM1025 751h2v1h-2zM1220 751h2v1h-2zM1409 751h2v1h-2zM938 752h3v1h-3zM1023 752h2v1h-2zM886 753h2v1h-2zM941 753h2v1h-2zM1021 753h2v1h-2zM1406 753h2v1h-2zM884 754h2v1h-2zM943 754h2v1h-2zM1018 754h3v1h-3zM1224 754h2v1h-2zM1404 754h2v1h-2zM945 755h2v1h-2zM1016 755h2v1h-2zM1402 755h2v1h-2zM947 756h2v1h-2zM1013 756h3v1h-3zM1400 756h2v1h-2zM880 757h2v1h-2zM949 757h2v1h-2zM1010 757h3v1h-3zM1397 757h3v1h-3zM951 758h2v1h-2zM1008 758h2v1h-2zM1395 758h2v1h-2zM272 759h2v1h-2zM953 759h2v1h-2zM1005 759h3v1h-3zM1230 759h2v1h-2zM1393 759h2v1h-2zM876 760h2v1h-2zM955 760h2v1h-2zM1002 760h3v1h-3zM957 761h3v1h-3zM998 761h4v1h-4zM1390 761h2v1h-2zM268 762h2v1h-2zM960 762h2v1h-2zM994 762h4v1h-4zM1388 762h2v1h-2zM962 763h6v1h-6zM990 763h4v1h-4zM968 764h22v1h-22zM1385 764h2v1h-2zM227 765h2v1h-2zM264 765h2v1h-2zM229 766h2v1h-2zM1238 766h2v1h-2zM1382 766h2v1h-2zM231 767h2v1h-2zM1380 767h2v1h-2zM233 768h2v1h-2zM260 768h2v1h-2zM235 769h3v1h-3zM256 769h4v1h-4zM1377 769h2v1h-2zM238 770h4v1h-4zM248 770h8v1h-8zM242 771h6v1h-6zM1244 771h2v1h-2zM1374 771h2v1h-2zM1372 772h2v1h-2zM1248 774h2v1h-2zM1368 775h2v1h-2zM1252 777h2v1h-2zM1364 778h2v1h-2zM1256 780h2v1h-2zM1361 780h2v1h-2zM1358 782h2v1h-2zM1356 783h2v1h-2zM1353 785h2v1h-2zM1351 786h2v1h-2zM1349 787h2v1h-2zM1347 788h2v1h-2zM846 789h2v1h-2zM1345 789h2v1h-2zM1342 791h2v1h-2zM1268 792h2v1h-2zM1340 792h2v1h-2zM796 793h2v1h-2zM1270 793h2v1h-2zM840 794h2v1h-2zM1337 794h2v1h-2zM1273 795h2v1h-2zM800 796h2v1h-2zM1275 796h2v1h-2zM1334 796h2v1h-2zM836 797h2v1h-2zM1277 797h2v1h-2zM1332 797h2v1h-2zM1279 798h2v1h-2zM804 799h2v1h-2zM833 799h2v1h-2zM1281 799h2v1h-2zM1329 799h2v1h-2zM806 800h2v1h-2zM1283 800h2v1h-2zM1327 800h2v1h-2zM830 801h2v1h-2zM1285 801h3v1h-3zM1325 801h2v1h-2zM809 802h2v1h-2zM828 802h2v1h-2zM1288 802h2v1h-2zM1320 802h5v1h-5zM811 803h5v1h-5zM824 803h4v1h-4zM1290 803h6v1h-6zM1312 803h8v1h-8zM816 804h8v1h-8zM1296 804h16v1h-16zM3 613h1v1h-1zM4 614h1v1h-1zM5 615h1v1h-1zM6 616h1v1h-1zM7 617h1v1h-1zM8 618h1v1h-1zM9 619h1v1h-1zM10 620h1v1h-1zM38 621h1v1h-1zM39 620h1v1h-1zM42 618h1v1h-1zM43 617h1v1h-1zM44 616h1v1h-1zM45 615h1v1h-1zM48 613h1v1h-1zM49 612h1v1h-1zM50 611h1v1h-1zM51 610h1v1h-1zM52 609h1v1h-1zM53 608h1v1h-1zM56 606h1v1h-1zM57 605h1v1h-1zM58 604h1v1h-1zM59 603h1v1h-1zM60 602h1v1h-1zM61 601h1v1h-1zM64 599h1v1h-1zM65 598h1v1h-1zM66 597h1v1h-1zM67 596h1v1h-1zM70 594h1v1h-1zM71 593h1v1h-1zM74 591h1v1h-1zM107 590h1v1h-1zM108 591h1v1h-1zM109 592h1v1h-1zM112 594h1v1h-1zM113 595h1v1h-1zM114 596h1v1h-1zM115 597h1v1h-1zM116 598h1v1h-1zM117 599h1v2h-1zM118 601h1v1h-1zM119 602h1v1h-1zM120 603h1v1h-1zM121 604h1v2h-1zM122 606h1v1h-1zM123 607h1v1h-1zM124 608h1v1h-1zM125 609h1v1h-1zM126 610h1v1h-1zM127 611h1v2h-1zM128 613h1v1h-1zM129 614h1v1h-1zM130 615h1v1h-1zM131 616h1v1h-1zM132 617h1v1h-1zM133 618h1v2h-1zM134 620h1v1h-1zM135 621h1v1h-1zM136 622h1v1h-1zM137 623h1v2h-1zM138 625h1v1h-1zM139 626h1v1h-1zM140 627h1v2h-1zM141 629h1v1h-1zM142 630h1v2h-1zM143 632h1v1h-1zM144 633h1v2h-1zM145 635h1v1h-1zM146 636h1v2h-1zM147 638h1v1h-1zM148 639h1v2h-1zM149 641h1v1h-1zM150 642h1v2h-1zM151 644h1v1h-1zM152 645h1v2h-1zM153 647h1v1h-1zM154 648h1v2h-1zM155 650h1v1h-1zM156 651h1v2h-1zM157 653h1v2h-1zM158 655h1v2h-1zM159 657h1v2h-1zM160 659h1v2h-1zM161 661h1v2h-1zM162 663h1v2h-1zM163 665h1v1h-1zM164 666h1v2h-1zM165 668h1v2h-1zM166 670h1v2h-1zM167 672h1v2h-1zM168 674h1v2h-1zM169 676h1v2h-1zM170 678h1v2h-1zM171 680h1v1h-1zM172 681h1v2h-1zM173 683h1v2h-1zM174 685h1v2h-1zM175 687h1v2h-1zM176 689h1v2h-1zM177 691h1v2h-1zM178 693h1v2h-1zM179 695h1v1h-1zM180 696h1v2h-1zM181 698h1v2h-1zM182 700h1v1h-1zM183 701h1v2h-1zM184 703h1v1h-1zM185 704h1v2h-1zM186 706h1v2h-1zM187 708h1v1h-1zM188 709h1v2h-1zM189 711h1v2h-1zM190 713h1v2h-1zM191 715h1v1h-1zM192 716h1v2h-1zM193 718h1v2h-1zM194 720h1v2h-1zM195 722h1v1h-1zM196 723h1v2h-1zM197 725h1v2h-1zM198 727h1v1h-1zM199 728h1v2h-1zM200 730h1v1h-1zM201 731h1v2h-1zM202 733h1v2h-1zM203 735h1v1h-1zM204 736h1v2h-1zM205 738h1v2h-1zM206 740h1v1h-1zM207 741h1v2h-1zM208 743h1v1h-1zM209 744h1v2h-1zM210 746h1v2h-1zM211 748h1v1h-1zM212 749h1v1h-1zM213 750h1v1h-1zM214 751h1v1h-1zM215 752h1v2h-1zM216 754h1v1h-1zM217 755h1v1h-1zM218 756h1v1h-1zM219 757h1v1h-1zM220 758h1v1h-1zM221 759h1v1h-1zM222 760h1v1h-1zM223 761h1v1h-1zM224 762h1v1h-1zM225 763h1v1h-1zM226 764h1v1h-1zM262 767h1v1h-1zM263 766h1v1h-1zM266 764h1v1h-1zM267 763h1v1h-1zM270 761h1v1h-1zM271 760h1v1h-1zM274 758h1v1h-1zM275 757h1v1h-1zM276 756h1v1h-1zM277 755h1v1h-1zM278 754h1v1h-1zM279 753h1v1h-1zM280 752h1v1h-1zM281 751h1v1h-1zM282 750h1v1h-1zM283 749h1v1h-1zM284 748h1v1h-1zM285 747h1v1h-1zM286 746h1v1h-1zM287 745h1v1h-1zM288 744h1v1h-1zM289 743h1v1h-1zM290 742h1v1h-1zM291 741h1v1h-1zM292 740h1v1h-1zM293 739h1v1h-1zM294 738h1v1h-1zM295 736h1v2h-1zM296 735h1v1h-1zM297 734h1v1h-1zM298 733h1v1h-1zM299 732h1v1h-1zM300 731h1v1h-1zM301 729h1v2h-1zM302 728h1v1h-1zM303 727h1v1h-1zM304 726h1v1h-1zM305 724h1v2h-1zM306 723h1v1h-1zM307 722h1v1h-1zM308 720h1v2h-1zM309 719h1v1h-1zM310 718h1v1h-1zM311 716h1v2h-1zM312 715h1v1h-1zM313 714h1v1h-1zM314 712h1v2h-1zM315 711h1v1h-1zM316 709h1v2h-1zM317 707h1v2h-1zM318 706h1v1h-1zM319 704h1v2h-1zM320 703h1v1h-1zM321 701h1v2h-1zM322 699h1v2h-1zM323 698h1v1h-1zM324 696h1v2h-1zM325 694h1v2h-1zM326 693h1v1h-1zM327 691h1v2h-1zM328 690h1v1h-1zM329 688h1v2h-1zM330 686h1v2h-1zM331 685h1v1h-1zM332 683h1v2h-1zM333 681h1v2h-1zM334 679h1v2h-1zM335 678h1v1h-1zM336 676h1v2h-1zM337 674h1v2h-1zM338 672h1v2h-1zM339 671h1v1h-1zM340 669h1v2h-1zM341 667h1v2h-1zM342 665h1v2h-1zM343 664h1v1h-1zM344 662h1v2h-1zM345 660h1v2h-1zM346 658h1v2h-1zM347 657h1v1h-1zM348 655h1v2h-1zM349 654h1v1h-1zM350 652h1v2h-1zM351 651h1v1h-1zM352 649h1v2h-1zM353 648h1v1h-1zM354 646h1v2h-1zM355 645h1v1h-1zM356 644h1v1h-1zM357 642h1v2h-1zM358 641h1v1h-1zM359 640h1v1h-1zM360 639h1v1h-1zM361 637h1v2h-1zM362 636h1v1h-1zM363 635h1v1h-1zM364 634h1v1h-1zM365 633h1v1h-1zM368 631h1v1h-1zM369 630h1v1h-1zM370 629h1v1h-1zM371 628h1v1h-1zM374 626h1v1h-1zM375 625h1v1h-1zM378 623h1v1h-1zM515 638h1v1h-1zM518 640h1v1h-1zM519 641h1v1h-1zM522 643h1v1h-1zM523 644h1v1h-1zM526 646h1v1h-1zM527 647h1v1h-1zM530 649h1v1h-1zM531 650h1v1h-1zM536 653h1v1h-1zM635 670h1v1h-1zM640 673h1v1h-1zM667 687h1v1h-1zM672 690h1v1h-1zM675 692h1v1h-1zM680 695h1v1h-1zM683 697h1v1h-1zM688 700h1v1h-1zM691 702h1v1h-1zM696 705h1v1h-1zM723 719h1v1h-1zM726 721h1v1h-1zM727 722h1v1h-1zM730 724h1v1h-1zM731 725h1v1h-1zM732 726h1v1h-1zM733 727h1v1h-1zM736 729h1v1h-1zM737 730h1v1h-1zM738 731h1v1h-1zM739 732h1v1h-1zM740 733h1v1h-1zM741 734h1v1h-1zM744 736h1v1h-1zM745 737h1v1h-1zM746 738h1v1h-1zM747 739h1v1h-1zM748 740h1v1h-1zM749 741h1v1h-1zM752 743h1v1h-1zM753 744h1v1h-1zM754 745h1v1h-1zM755 746h1v1h-1zM756 747h1v1h-1zM757 748h1v2h-1zM758 750h1v1h-1zM759 751h1v1h-1zM760 752h1v1h-1zM761 753h1v2h-1zM762 755h1v1h-1zM763 756h1v1h-1zM764 757h1v1h-1zM765 758h1v1h-1zM766 759h1v1h-1zM767 760h1v2h-1zM768 762h1v1h-1zM769 763h1v1h-1zM770 764h1v1h-1zM771 765h1v1h-1zM772 766h1v1h-1zM773 767h1v1h-1zM774 768h1v1h-1zM775 769h1v2h-1zM776 771h1v1h-1zM777 772h1v1h-1zM778 773h1v1h-1zM779 774h1v1h-1zM780 775h1v1h-1zM781 776h1v2h-1zM782 778h1v1h-1zM783 779h1v1h-1zM784 780h1v1h-1zM785 781h1v2h-1zM786 783h1v1h-1zM787 784h1v1h-1zM788 785h1v1h-1zM789 786h1v1h-1zM790 787h1v1h-1zM791 788h1v1h-1zM792 789h1v1h-1zM793 790h1v1h-1zM794 791h1v1h-1zM795 792h1v1h-1zM798 794h1v1h-1zM799 795h1v1h-1zM802 797h1v1h-1zM803 798h1v1h-1zM808 801h1v1h-1zM832 800h1v1h-1zM835 798h1v1h-1zM838 796h1v1h-1zM839 795h1v1h-1zM842 793h1v1h-1zM843 792h1v1h-1zM844 791h1v1h-1zM845 790h1v1h-1zM848 788h1v1h-1zM849 787h1v1h-1zM850 786h1v1h-1zM851 785h1v1h-1zM852 784h1v1h-1zM853 783h1v1h-1zM854 782h1v1h-1zM855 781h1v1h-1zM856 780h1v1h-1zM857 779h1v1h-1zM858 778h1v1h-1zM859 777h1v1h-1zM860 776h1v1h-1zM861 775h1v1h-1zM862 774h1v1h-1zM863 773h1v1h-1zM864 772h1v1h-1zM865 771h1v1h-1zM866 770h1v1h-1zM867 769h1v1h-1zM868 768h1v1h-1zM869 767h1v1h-1zM870 766h1v1h-1zM871 765h1v1h-1zM872 764h1v1h-1zM873 763h1v1h-1zM874 762h1v1h-1zM875 761h1v1h-1zM878 759h1v1h-1zM879 758h1v1h-1zM882 756h1v1h-1zM883 755h1v1h-1zM888 752h1v1h-1zM1219 750h1v1h-1zM1222 752h1v1h-1zM1223 753h1v1h-1zM1226 755h1v1h-1zM1227 756h1v1h-1zM1228 757h1v1h-1zM1229 758h1v1h-1zM1232 760h1v1h-1zM1233 761h1v1h-1zM1234 762h1v1h-1zM1235 763h1v1h-1zM1236 764h1v1h-1zM1237 765h1v1h-1zM1240 767h1v1h-1zM1241 768h1v1h-1zM1242 769h1v1h-1zM1243 770h1v1h-1zM1246 772h1v1h-1zM1247 773h1v1h-1zM1250 775h1v1h-1zM1251 776h1v1h-1zM1254 778h1v1h-1zM1255 779h1v1h-1zM1258 781h1v1h-1zM1259 782h1v1h-1zM1260 783h1v1h-1zM1261 784h1v1h-1zM1262 785h1v1h-1zM1263 786h1v2h-1zM1264 788h1v1h-1zM1265 789h1v1h-1zM1266 790h1v1h-1zM1267 791h1v1h-1zM1272 794h1v1h-1zM1331 798h1v1h-1zM1336 795h1v1h-1zM1339 793h1v1h-1zM1344 790h1v1h-1zM1355 784h1v1h-1zM1360 781h1v1h-1zM1363 779h1v1h-1zM1366 777h1v1h-1zM1367 776h1v1h-1zM1370 774h1v1h-1zM1371 773h1v1h-1zM1376 770h1v1h-1zM1379 768h1v1h-1zM1384 765h1v1h-1zM1387 763h1v1h-1zM1392 760h1v1h-1zM1408 752h1v1h-1zM1419 746h1v1h-1zM1424 743h1v1h-1zM1427 741h1v1h-1zM1430 739h1v1h-1zM1431 738h1v1h-1zM1434 736h1v1h-1zM1435 735h1v1h-1zM1436 734h1v1h-1zM1437 732h1v2h-1zM1438 731h1v1h-1zM1439 730h1v1h-1zM1440 729h1v1h-1zM1441 727h1v2h-1zM1442 726h1v1h-1zM1443 725h1v1h-1zM1444 723h1v2h-1zM1445 722h1v1h-1zM1446 720h1v2h-1zM1447 719h1v1h-1zM1448 717h1v2h-1zM1449 716h1v1h-1zM1450 714h1v2h-1zM1451 713h1v1h-1zM1452 711h1v2h-1zM1453 709h1v2h-1zM1454 707h1v2h-1zM1455 705h1v2h-1zM1456 703h1v2h-1zM1457 701h1v2h-1zM1458 699h1v2h-1zM1459 697h1v2h-1zM1460 695h1v2h-1zM1461 693h1v2h-1zM1462 691h1v2h-1zM1463 689h1v2h-1zM1464 687h1v2h-1zM1465 685h1v2h-1zM1466 683h1v2h-1zM1467 680h1v3h-1zM1468 678h1v2h-1zM1469 676h1v2h-1zM1470 674h1v2h-1zM1471 672h1v2h-1zM1472 670h1v2h-1zM1473 668h1v2h-1zM1474 666h1v2h-1zM1475 663h1v3h-1zM1476 661h1v2h-1zM1477 659h1v2h-1zM1478 657h1v2h-1zM1479 655h1v2h-1zM1480 653h1v2h-1zM1481 651h1v2h-1zM1482 649h1v2h-1zM1483 647h1v2h-1zM1484 645h1v2h-1zM1485 643h1v2h-1zM1486 641h1v2h-1zM1487 640h1v1h-1zM1488 638h1v2h-1zM1489 636h1v2h-1zM1490 634h1v2h-1zM1491 633h1v1h-1z"/>
<path fill="#c0c0c0" d="M59 577h2v1h-2zM61 578h3v1h-3zM1480 578h2v1h-2zM64 579h2v1h-2zM66 580h2v1h-2zM68 581h2v1h-2zM1476 581h2v1h-2zM72 584h2v1h-2zM83 596h2v1h-2zM85 597h2v1h-2zM87 598h2v1h-2zM89 599h2v1h-2zM474 618h2v1h-2zM472 619h2v1h-2zM469 620h3v1h-3zM467 621h2v1h-2zM478 621h2v1h-2zM465 622h2v1h-2zM462 624h2v1h-2zM460 625h2v1h-2zM372 626h2v1h-2zM374 627h2v1h-2zM456 628h2v1h-2zM377 629h2v1h-2zM452 631h2v1h-2zM449 633h2v1h-2zM447 634h2v1h-2zM403 635h11v1h-11zM445 635h2v1h-2zM401 636h2v1h-2zM414 636h4v1h-4zM443 636h2v1h-2zM418 637h3v1h-3zM441 637h2v1h-2zM398 638h2v1h-2zM421 638h3v1h-3zM387 639h5v1h-5zM396 639h2v1h-2zM424 639h2v1h-2zM438 639h2v1h-2zM392 640h4v1h-4zM426 640h6v1h-6zM436 640h2v1h-2zM432 641h4v1h-4zM494 646h2v1h-2zM568 648h4v1h-4zM563 649h5v1h-5zM561 650h2v1h-2zM558 652h2v1h-2zM556 653h2v1h-2zM124 656h2v1h-2zM550 658h2v1h-2zM128 659h2v1h-2zM582 660h2v1h-2zM587 664h3v1h-3zM590 665h4v1h-4zM594 666h2v1h-2zM598 669h2v1h-2zM537 670h2v1h-2zM534 672h2v1h-2zM532 673h2v1h-2zM603 673h2v1h-2zM605 674h2v1h-2zM607 675h2v1h-2zM609 676h2v1h-2zM611 677h5v1h-5zM616 678h5v1h-5zM621 679h2v1h-2zM623 680h2v1h-2zM625 681h2v1h-2zM628 683h2v1h-2zM630 684h2v1h-2zM633 686h2v1h-2zM636 688h2v1h-2zM638 689h2v1h-2zM641 691h2v1h-2zM643 692h2v1h-2zM645 693h2v1h-2zM647 694h2v1h-2zM649 695h2v1h-2zM652 697h2v1h-2zM654 698h2v1h-2zM657 700h2v1h-2zM662 704h2v1h-2zM286 710h2v1h-2zM1430 710h2v1h-2zM675 718h2v1h-2zM677 719h3v1h-3zM680 720h2v1h-2zM682 721h4v1h-4zM686 722h4v1h-4zM690 723h3v1h-3zM693 724h3v1h-3zM712 724h4v1h-4zM696 725h2v1h-2zM704 725h8v1h-8zM698 726h6v1h-6zM1414 727h2v1h-2zM1050 734h6v1h-6zM1048 735h2v1h-2zM1056 735h6v1h-6zM1045 736h3v1h-3zM1062 736h4v1h-4zM1112 736h8v1h-8zM1043 737h2v1h-2zM1066 737h14v1h-14zM1096 737h16v1h-16zM1120 737h30v1h-30zM1041 738h2v1h-2zM1080 738h16v1h-16zM1150 738h4v1h-4zM1154 739h3v1h-3zM1038 740h2v1h-2zM1157 740h3v1h-3zM1170 740h6v1h-6zM1036 741h2v1h-2zM1160 741h2v1h-2zM1166 741h4v1h-4zM1176 741h5v1h-5zM882 742h3v1h-3zM1162 742h4v1h-4zM1181 742h3v1h-3zM878 743h4v1h-4zM885 743h2v1h-2zM994 743h4v1h-4zM1033 743h2v1h-2zM1184 743h2v1h-2zM875 744h3v1h-3zM887 744h2v1h-2zM992 744h2v1h-2zM998 744h4v1h-4zM1031 744h2v1h-2zM1186 744h4v1h-4zM873 745h2v1h-2zM889 745h2v1h-2zM896 745h8v1h-8zM989 745h3v1h-3zM1002 745h3v1h-3zM1029 745h2v1h-2zM1190 745h4v1h-4zM848 746h6v1h-6zM871 746h2v1h-2zM891 746h5v1h-5zM904 746h4v1h-4zM987 746h2v1h-2zM1005 746h3v1h-3zM1027 746h2v1h-2zM1194 746h2v1h-2zM843 747h5v1h-5zM854 747h4v1h-4zM869 747h2v1h-2zM908 747h2v1h-2zM1008 747h2v1h-2zM1025 747h2v1h-2zM858 748h11v1h-11zM984 748h2v1h-2zM1010 748h4v1h-4zM1023 748h2v1h-2zM1014 749h4v1h-4zM1021 749h2v1h-2zM1392 749h2v1h-2zM912 750h2v1h-2zM1018 750h3v1h-3zM980 751h2v1h-2zM915 752h2v1h-2zM1388 752h2v1h-2zM917 753h3v1h-3zM1376 753h12v1h-12zM920 754h2v1h-2zM1370 754h6v1h-6zM922 755h2v1h-2zM1368 755h2v1h-2zM974 756h2v1h-2zM1365 756h3v1h-3zM1363 757h2v1h-2zM246 758h2v1h-2zM1361 758h2v1h-2zM1203 759h2v1h-2zM1359 759h2v1h-2zM969 760h2v1h-2zM1205 760h3v1h-3zM1357 760h2v1h-2zM1208 761h2v1h-2zM1354 761h3v1h-3zM966 762h2v1h-2zM1210 762h2v1h-2zM1352 762h2v1h-2zM964 763h2v1h-2zM1349 763h3v1h-3zM1347 764h2v1h-2zM238 765h2v1h-2zM1345 765h2v1h-2zM1343 766h2v1h-2zM1341 767h2v1h-2zM1339 768h2v1h-2zM934 769h2v1h-2zM232 770h2v1h-2zM228 773h2v1h-2zM196 775h2v1h-2zM225 775h2v1h-2zM942 776h2v1h-2zM222 777h2v1h-2zM200 778h2v1h-2zM220 778h2v1h-2zM203 780h2v1h-2zM217 780h2v1h-2zM947 780h9v1h-9zM205 781h2v1h-2zM207 782h2v1h-2zM214 782h2v1h-2zM209 783h2v1h-2zM212 783h2v1h-2zM1228 796h2v1h-2zM1312 797h2v1h-2zM1232 799h2v1h-2zM1250 799h2v1h-2zM1248 800h2v1h-2zM1308 800h2v1h-2zM1235 801h5v1h-5zM1245 801h3v1h-3zM1304 801h4v1h-4zM1240 802h5v1h-5zM1290 802h14v1h-14zM1286 803h4v1h-4zM1283 804h3v1h-3zM763 805h3v1h-3zM809 805h2v1h-2zM1281 805h2v1h-2zM766 806h4v1h-4zM1279 806h2v1h-2zM770 807h6v1h-6zM806 807h2v1h-2zM1277 807h2v1h-2zM776 808h5v1h-5zM804 808h2v1h-2zM1259 808h3v1h-3zM1274 808h3v1h-3zM781 809h3v1h-3zM1262 809h4v1h-4zM1270 809h4v1h-4zM784 810h2v1h-2zM801 810h2v1h-2zM1266 810h4v1h-4zM786 811h4v1h-4zM799 811h2v1h-2zM790 812h4v1h-4zM797 812h2v1h-2zM794 813h3v1h-3zM3 639h1v1h-1zM4 638h1v1h-1zM5 637h1v1h-1zM6 636h1v1h-1zM7 634h1v2h-1zM8 633h1v1h-1zM9 632h1v1h-1zM10 631h1v1h-1zM11 629h1v2h-1zM12 627h1v2h-1zM13 625h1v2h-1zM14 623h1v2h-1zM15 621h1v2h-1zM16 619h1v2h-1zM17 617h1v2h-1zM18 615h1v2h-1zM19 614h1v1h-1zM20 612h1v2h-1zM21 610h1v2h-1zM22 608h1v2h-1zM23 607h1v1h-1zM24 605h1v2h-1zM25 603h1v2h-1zM26 601h1v2h-1zM27 599h1v2h-1zM28 597h1v2h-1zM29 595h1v2h-1zM30 593h1v2h-1zM31 591h1v2h-1zM32 589h1v2h-1zM33 587h1v2h-1zM34 585h1v2h-1zM35 584h1v1h-1zM36 583h1v1h-1zM37 582h1v1h-1zM38 581h1v1h-1zM39 580h1v1h-1zM40 579h1v1h-1zM41 578h1v1h-1zM42 577h1v1h-1zM43 576h1v1h-1zM44 575h1v1h-1zM45 574h1v1h-1zM46 573h1v1h-1zM47 572h1v1h-1zM48 571h1v1h-1zM49 570h1v1h-1zM50 569h1v1h-1zM51 568h1v1h-1zM52 569h1v1h-1zM53 570h1v1h-1zM54 571h1v1h-1zM55 572h1v2h-1zM56 574h1v1h-1zM57 575h1v1h-1zM58 576h1v1h-1zM70 582h1v1h-1zM71 583h1v1h-1zM74 585h1v1h-1zM75 586h1v1h-1zM76 587h1v1h-1zM77 588h1v2h-1zM78 590h1v1h-1zM79 591h1v1h-1zM80 592h1v1h-1zM81 593h1v2h-1zM82 595h1v1h-1zM91 600h1v1h-1zM92 601h1v1h-1zM93 602h1v1h-1zM94 603h1v1h-1zM95 604h1v2h-1zM96 606h1v1h-1zM97 607h1v1h-1zM98 608h1v1h-1zM99 609h1v2h-1zM100 611h1v2h-1zM101 613h1v2h-1zM102 615h1v2h-1zM103 617h1v2h-1zM104 619h1v2h-1zM105 621h1v2h-1zM106 623h1v2h-1zM107 625h1v3h-1zM108 628h1v2h-1zM109 630h1v2h-1zM110 632h1v2h-1zM111 634h1v2h-1zM112 636h1v2h-1zM113 638h1v2h-1zM114 640h1v2h-1zM115 642h1v2h-1zM116 644h1v2h-1zM117 646h1v1h-1zM118 647h1v2h-1zM119 649h1v1h-1zM120 650h1v2h-1zM121 652h1v1h-1zM122 653h1v2h-1zM123 655h1v1h-1zM126 657h1v1h-1zM127 658h1v1h-1zM130 660h1v1h-1zM131 661h1v1h-1zM132 662h1v1h-1zM133 663h1v1h-1zM134 664h1v1h-1zM135 665h1v2h-1zM136 667h1v1h-1zM137 668h1v1h-1zM138 669h1v1h-1zM139 670h1v2h-1zM140 672h1v3h-1zM141 675h1v3h-1zM142 678h1v3h-1zM143 681h1v2h-1zM144 683h1v3h-1zM145 686h1v3h-1zM146 689h1v3h-1zM147 692h1v3h-1zM148 695h1v2h-1zM149 697h1v2h-1zM150 699h1v2h-1zM151 701h1v2h-1zM152 703h1v2h-1zM153 705h1v2h-1zM154 707h1v2h-1zM155 709h1v2h-1zM156 711h1v2h-1zM157 713h1v2h-1zM158 715h1v2h-1zM159 717h1v1h-1zM160 718h1v2h-1zM161 720h1v2h-1zM162 722h1v2h-1zM163 724h1v2h-1zM164 726h1v2h-1zM165 728h1v3h-1zM166 731h1v2h-1zM167 733h1v3h-1zM168 736h1v2h-1zM169 738h1v3h-1zM170 741h1v2h-1zM171 743h1v2h-1zM172 745h1v2h-1zM173 747h1v1h-1zM174 748h1v2h-1zM175 750h1v1h-1zM176 751h1v2h-1zM177 753h1v1h-1zM178 754h1v2h-1zM179 756h1v1h-1zM180 757h1v1h-1zM181 758h1v2h-1zM182 760h1v1h-1zM183 761h1v1h-1zM184 762h1v1h-1zM185 763h1v2h-1zM186 765h1v1h-1zM187 766h1v1h-1zM188 767h1v1h-1zM189 768h1v1h-1zM190 769h1v1h-1zM191 770h1v1h-1zM192 771h1v1h-1zM193 772h1v1h-1zM194 773h1v1h-1zM195 774h1v1h-1zM198 776h1v1h-1zM199 777h1v1h-1zM202 779h1v1h-1zM211 784h1v1h-1zM216 781h1v1h-1zM219 779h1v1h-1zM224 776h1v1h-1zM227 774h1v1h-1zM230 772h1v1h-1zM231 771h1v1h-1zM234 769h1v1h-1zM235 768h1v1h-1zM236 767h1v1h-1zM237 766h1v1h-1zM240 764h1v1h-1zM241 763h1v1h-1zM242 762h1v1h-1zM243 761h1v1h-1zM244 760h1v1h-1zM245 759h1v1h-1zM248 757h1v1h-1zM249 756h1v1h-1zM250 755h1v1h-1zM251 754h1v1h-1zM252 753h1v1h-1zM253 751h1v2h-1zM254 750h1v1h-1zM255 749h1v1h-1zM256 748h1v1h-1zM257 746h1v2h-1zM258 745h1v1h-1zM259 744h1v1h-1zM260 742h1v2h-1zM261 740h1v2h-1zM262 739h1v1h-1zM263 737h1v2h-1zM264 736h1v1h-1zM265 734h1v2h-1zM266 732h1v2h-1zM267 731h1v1h-1zM268 730h1v1h-1zM269 729h1v1h-1zM270 728h1v1h-1zM271 727h1v1h-1zM272 726h1v1h-1zM273 725h1v1h-1zM274 724h1v1h-1zM275 723h1v1h-1zM276 722h1v1h-1zM277 720h1v2h-1zM278 719h1v1h-1zM279 718h1v1h-1zM280 717h1v1h-1zM281 715h1v2h-1zM282 714h1v1h-1zM283 713h1v1h-1zM284 712h1v1h-1zM285 711h1v1h-1zM288 709h1v1h-1zM289 708h1v1h-1zM290 707h1v1h-1zM291 705h1v2h-1zM292 703h1v2h-1zM293 701h1v2h-1zM294 699h1v2h-1zM295 697h1v2h-1zM296 695h1v2h-1zM297 693h1v2h-1zM298 691h1v2h-1zM299 690h1v1h-1zM300 688h1v2h-1zM301 686h1v2h-1zM302 685h1v1h-1zM303 683h1v2h-1zM304 682h1v1h-1zM305 680h1v2h-1zM306 678h1v2h-1zM307 676h1v2h-1zM308 674h1v2h-1zM309 672h1v2h-1zM310 670h1v2h-1zM311 668h1v2h-1zM312 666h1v2h-1zM313 664h1v2h-1zM314 662h1v2h-1zM315 660h1v2h-1zM316 658h1v2h-1zM317 655h1v3h-1zM318 653h1v2h-1zM319 650h1v3h-1zM320 648h1v2h-1zM321 645h1v3h-1zM322 643h1v2h-1zM323 640h1v3h-1zM324 638h1v2h-1zM325 636h1v2h-1zM326 634h1v2h-1zM327 632h1v2h-1zM328 630h1v2h-1zM329 628h1v2h-1zM330 626h1v2h-1zM331 624h1v2h-1zM332 622h1v2h-1zM333 621h1v1h-1zM334 619h1v2h-1zM335 618h1v1h-1zM336 616h1v2h-1zM337 615h1v1h-1zM338 613h1v2h-1zM339 611h1v2h-1zM340 609h1v2h-1zM341 607h1v2h-1zM342 605h1v2h-1zM343 603h1v2h-1zM344 601h1v2h-1zM345 599h1v2h-1zM346 597h1v2h-1zM347 596h1v1h-1zM348 597h1v1h-1zM349 598h1v2h-1zM350 600h1v1h-1zM351 601h1v1h-1zM352 602h1v1h-1zM353 603h1v2h-1zM354 605h1v1h-1zM355 606h1v1h-1zM356 607h1v1h-1zM357 608h1v1h-1zM358 609h1v1h-1zM359 610h1v2h-1zM360 612h1v1h-1zM361 613h1v1h-1zM362 614h1v1h-1zM363 615h1v1h-1zM364 616h1v1h-1zM365 617h1v2h-1zM366 619h1v1h-1zM367 620h1v1h-1zM368 621h1v1h-1zM369 622h1v2h-1zM370 624h1v1h-1zM371 625h1v1h-1zM376 628h1v1h-1zM379 630h1v1h-1zM380 631h1v1h-1zM381 632h1v1h-1zM382 633h1v1h-1zM383 634h1v2h-1zM384 636h1v1h-1zM385 637h1v1h-1zM386 638h1v1h-1zM400 637h1v1h-1zM440 638h1v1h-1zM451 632h1v1h-1zM454 630h1v1h-1zM455 629h1v1h-1zM458 627h1v1h-1zM459 626h1v1h-1zM464 623h1v1h-1zM476 619h1v1h-1zM477 620h1v1h-1zM480 622h1v1h-1zM481 623h1v1h-1zM482 624h1v1h-1zM483 625h1v2h-1zM484 627h1v2h-1zM485 629h1v2h-1zM486 631h1v2h-1zM487 633h1v3h-1zM488 636h1v2h-1zM489 638h1v2h-1zM490 640h1v2h-1zM491 642h1v2h-1zM492 644h1v1h-1zM493 645h1v1h-1zM496 647h1v1h-1zM497 648h1v1h-1zM498 649h1v1h-1zM499 650h1v1h-1zM500 651h1v1h-1zM501 652h1v1h-1zM502 653h1v1h-1zM503 654h1v1h-1zM504 655h1v1h-1zM505 656h1v1h-1zM506 657h1v1h-1zM507 658h1v1h-1zM508 659h1v2h-1zM509 661h1v2h-1zM510 663h1v2h-1zM511 665h1v1h-1zM512 666h1v2h-1zM513 668h1v2h-1zM514 670h1v2h-1zM515 672h1v1h-1zM516 673h1v2h-1zM517 675h1v1h-1zM518 676h1v1h-1zM519 677h1v2h-1zM520 679h1v1h-1zM521 680h1v1h-1zM522 681h1v2h-1zM523 683h1v1h-1zM524 682h1v1h-1zM525 681h1v1h-1zM526 680h1v1h-1zM527 678h1v2h-1zM528 677h1v1h-1zM529 676h1v1h-1zM530 675h1v1h-1zM531 674h1v1h-1zM536 671h1v1h-1zM539 669h1v1h-1zM540 668h1v1h-1zM541 667h1v1h-1zM542 666h1v1h-1zM543 665h1v1h-1zM544 664h1v1h-1zM545 663h1v1h-1zM546 662h1v1h-1zM547 661h1v1h-1zM548 660h1v1h-1zM549 659h1v1h-1zM552 657h1v1h-1zM553 656h1v1h-1zM554 655h1v1h-1zM555 654h1v1h-1zM560 651h1v1h-1zM572 649h1v1h-1zM573 650h1v1h-1zM574 651h1v1h-1zM575 652h1v2h-1zM576 654h1v1h-1zM577 655h1v1h-1zM578 656h1v1h-1zM579 657h1v1h-1zM580 658h1v1h-1zM581 659h1v1h-1zM584 661h1v1h-1zM585 662h1v1h-1zM586 663h1v1h-1zM596 667h1v1h-1zM597 668h1v1h-1zM600 670h1v1h-1zM601 671h1v1h-1zM602 672h1v1h-1zM627 682h1v1h-1zM632 685h1v1h-1zM635 687h1v1h-1zM640 690h1v1h-1zM651 696h1v1h-1zM656 699h1v1h-1zM659 701h1v1h-1zM660 702h1v1h-1zM661 703h1v1h-1zM664 705h1v1h-1zM665 706h1v1h-1zM666 707h1v1h-1zM667 708h1v1h-1zM668 709h1v1h-1zM669 710h1v2h-1zM670 712h1v1h-1zM671 713h1v1h-1zM672 714h1v1h-1zM673 715h1v2h-1zM674 717h1v1h-1zM716 725h1v1h-1zM717 726h1v1h-1zM718 727h1v1h-1zM719 728h1v1h-1zM720 729h1v1h-1zM721 730h1v1h-1zM722 731h1v1h-1zM723 732h1v2h-1zM724 734h1v2h-1zM725 736h1v2h-1zM726 738h1v2h-1zM727 740h1v2h-1zM728 742h1v2h-1zM729 744h1v2h-1zM730 746h1v2h-1zM731 748h1v2h-1zM732 750h1v2h-1zM733 752h1v2h-1zM734 754h1v3h-1zM735 757h1v2h-1zM736 759h1v3h-1zM737 762h1v2h-1zM738 764h1v2h-1zM739 766h1v2h-1zM740 768h1v2h-1zM741 770h1v2h-1zM742 772h1v2h-1zM743 774h1v1h-1zM744 775h1v2h-1zM745 777h1v2h-1zM746 779h1v2h-1zM747 781h1v1h-1zM748 782h1v1h-1zM749 783h1v2h-1zM750 785h1v1h-1zM751 786h1v1h-1zM752 787h1v1h-1zM753 788h1v2h-1zM754 790h1v1h-1zM755 791h1v1h-1zM756 792h1v2h-1zM757 794h1v2h-1zM758 796h1v2h-1zM759 798h1v1h-1zM760 799h1v2h-1zM761 801h1v2h-1zM762 803h1v2h-1zM803 809h1v1h-1zM808 806h1v1h-1zM811 804h1v1h-1zM812 802h1v2h-1zM813 800h1v2h-1zM814 799h1v1h-1zM815 797h1v2h-1zM816 796h1v1h-1zM817 794h1v2h-1zM818 792h1v2h-1zM819 790h1v2h-1zM820 788h1v2h-1zM821 786h1v2h-1zM822 784h1v2h-1zM823 782h1v2h-1zM824 780h1v2h-1zM825 778h1v2h-1zM826 776h1v2h-1zM827 773h1v3h-1zM828 771h1v2h-1zM829 769h1v2h-1zM830 767h1v2h-1zM831 765h1v2h-1zM832 763h1v2h-1zM833 761h1v2h-1zM834 759h1v2h-1zM835 758h1v1h-1zM836 756h1v2h-1zM837 755h1v1h-1zM838 754h1v1h-1zM839 752h1v2h-1zM840 751h1v1h-1zM841 750h1v1h-1zM842 748h1v2h-1zM910 748h1v1h-1zM911 749h1v1h-1zM914 751h1v1h-1zM924 756h1v2h-1zM925 758h1v1h-1zM926 759h1v1h-1zM927 760h1v2h-1zM928 762h1v1h-1zM929 763h1v1h-1zM930 764h1v2h-1zM931 766h1v1h-1zM932 767h1v1h-1zM933 768h1v1h-1zM936 770h1v1h-1zM937 771h1v1h-1zM938 772h1v1h-1zM939 773h1v1h-1zM940 774h1v1h-1zM941 775h1v1h-1zM944 777h1v1h-1zM945 778h1v1h-1zM946 779h1v1h-1zM955 779h1v1h-1zM956 777h1v2h-1zM957 775h1v2h-1zM958 773h1v2h-1zM959 771h1v2h-1zM960 769h1v2h-1zM961 767h1v2h-1zM962 765h1v2h-1zM963 764h1v1h-1zM968 761h1v1h-1zM971 759h1v1h-1zM972 758h1v1h-1zM973 757h1v1h-1zM976 755h1v1h-1zM977 754h1v1h-1zM978 753h1v1h-1zM979 752h1v1h-1zM982 750h1v1h-1zM983 749h1v1h-1zM986 747h1v1h-1zM1035 742h1v1h-1zM1040 739h1v1h-1zM1196 747h1v2h-1zM1197 749h1v2h-1zM1198 751h1v1h-1zM1199 752h1v2h-1zM1200 754h1v1h-1zM1201 755h1v2h-1zM1202 757h1v2h-1zM1212 763h1v2h-1zM1213 765h1v2h-1zM1214 767h1v2h-1zM1215 769h1v2h-1zM1216 771h1v2h-1zM1217 773h1v2h-1zM1218 775h1v2h-1zM1219 777h1v2h-1zM1220 779h1v2h-1zM1221 781h1v2h-1zM1222 783h1v2h-1zM1223 785h1v3h-1zM1224 788h1v2h-1zM1225 790h1v2h-1zM1226 792h1v2h-1zM1227 794h1v2h-1zM1230 797h1v1h-1zM1231 798h1v1h-1zM1234 800h1v1h-1zM1252 800h1v1h-1zM1253 801h1v1h-1zM1254 802h1v1h-1zM1255 803h1v2h-1zM1256 805h1v1h-1zM1257 806h1v1h-1zM1258 807h1v1h-1zM1310 799h1v1h-1zM1311 798h1v1h-1zM1314 796h1v1h-1zM1315 795h1v1h-1zM1316 794h1v1h-1zM1317 793h1v1h-1zM1318 792h1v1h-1zM1319 791h1v1h-1zM1320 790h1v1h-1zM1321 789h1v1h-1zM1322 788h1v1h-1zM1323 787h1v1h-1zM1324 785h1v2h-1zM1325 784h1v1h-1zM1326 783h1v1h-1zM1327 781h1v2h-1zM1328 780h1v1h-1zM1329 779h1v1h-1zM1330 777h1v2h-1zM1331 776h1v1h-1zM1332 775h1v1h-1zM1333 774h1v1h-1zM1334 773h1v1h-1zM1335 772h1v1h-1zM1336 771h1v1h-1zM1337 770h1v1h-1zM1338 769h1v1h-1zM1390 751h1v1h-1zM1391 750h1v1h-1zM1394 748h1v1h-1zM1395 747h1v1h-1zM1396 746h1v1h-1zM1397 745h1v1h-1zM1398 744h1v1h-1zM1399 743h1v1h-1zM1400 742h1v1h-1zM1401 741h1v1h-1zM1402 740h1v1h-1zM1403 739h1v1h-1zM1404 738h1v1h-1zM1405 737h1v1h-1zM1406 736h1v1h-1zM1407 734h1v2h-1zM1408 733h1v1h-1zM1409 732h1v1h-1zM1410 731h1v1h-1zM1411 730h1v1h-1zM1412 729h1v1h-1zM1413 728h1v1h-1zM1416 726h1v1h-1zM1417 725h1v1h-1zM1418 724h1v1h-1zM1419 723h1v1h-1zM1420 722h1v1h-1zM1421 720h1v2h-1zM1422 719h1v1h-1zM1423 718h1v1h-1zM1424 717h1v1h-1zM1425 715h1v2h-1zM1426 714h1v1h-1zM1427 713h1v1h-1zM1428 712h1v1h-1zM1429 711h1v1h-1zM1432 709h1v1h-1zM1433 708h1v1h-1zM1434 707h1v1h-1zM1435 705h1v2h-1zM1436 702h1v3h-1zM1437 699h1v3h-1zM1438 696h1v3h-1zM1439 693h1v3h-1zM1440 690h1v3h-1zM1441 687h1v3h-1zM1442 684h1v3h-1zM1443 680h1v4h-1zM1444 676h1v4h-1zM1445 671h1v5h-1zM1446 667h1v4h-1zM1447 662h1v5h-1zM1448 658h1v4h-1zM1449 653h1v5h-1zM1450 649h1v4h-1zM1451 644h1v5h-1zM1452 640h1v4h-1zM1453 636h1v4h-1zM1454 632h1v4h-1zM1455 628h1v4h-1zM1456 624h1v4h-1zM1457 620h1v4h-1zM1458 616h1v4h-1zM1459 613h1v3h-1zM1460 610h1v3h-1zM1461 607h1v3h-1zM1462 604h1v3h-1zM1463 602h1v2h-1zM1464 599h1v3h-1zM1465 596h1v3h-1zM1466 593h1v3h-1zM1467 591h1v2h-1zM1468 590h1v1h-1zM1469 589h1v1h-1zM1470 588h1v1h-1zM1471 586h1v2h-1zM1472 585h1v1h-1zM1473 584h1v1h-1zM1474 583h1v1h-1zM1475 582h1v1h-1zM1478 580h1v1h-1zM1479 579h1v1h-1zM1482 577h1v1h-1zM1483 576h1v1h-1zM1484 577h1v1h-1zM1485 578h1v1h-1zM1486 579h1v1h-1zM1487 580h1v1h-1zM1488 581h1v1h-1zM1489 582h1v1h-1zM1490 583h1v1h-1zM1491 584h1v1h-1z"/>
</g>
<rect x="2" y="2" width="1508" height="1"/>
<rect x="2" y="2" width="1" height="550"/>
<rect x="2" y="551" width="1508" height="1"/>
<rect x="2" y="553" width="1508" height="1"/>
<rect x="2" y="553" width="1" height="274"/>
<rect x="2" y="826" width="1508" height="1"/>
<rect x="1509" y="2" width="1" height="550"/>
<rect x="1509" y="553" width="1" height="274"/>
<rect x="1510" y="41" width="2" height="1"/>
<rect x="1510" y="90" width="2" height="1"/>
<rect x="1510" y="140" width="2" height="1"/>
<rect x="1510" y="238" width="2" height="1"/>
<rect x="1510" y="287" width="2" height="1"/>
<rect x="1510" y="336" width="2" height="1"/>
<rect x="1510" y="385" width="2" height="1"/>
<rect x="1510" y="434" width="2" height="1"/>
<rect x="1510" y="483" width="2" height="1"/>
<rect x="1510" y="532" width="2" height="1"/>
<rect x="1510" y="757" width="1" height="1"/>
<rect x="1510" y="555" width="1" height="1"/>
<rect x="1510" y="826" width="1" height="1"/>
<rect x="3" y="827" width="1" height="3"/>
<rect x="99" y="827" width="1" height="3"/>
<rect x="195" y="827" width="1" height="3"/>
<rect x="291" y="827" width="1" height="3"/>
<rect x="387" y="827" width="1" height="3"/>
<rect x="483" y="827" width="1" height="3"/>
<rect x="579" y="827" width="1" height="3"/>
<rect x="675" y="827" width="1" height="3"/>
<rect x="771" y="827" width="1" height="3"/>
<rect x="867" y="827" width="1" height="3"/>
<rect x="963" y="827" width="1" height="3"/>
<rect x="1059" y="827" width="1" height="3"/>
<rect x="1155" y="827" width="1" height="3"/>
<rect x="1251" y="827" width="1" height="3"/>
<rect x="1347" y="827" width="1" height="3"/>
<rect x="1443" y="827" width="1" height="3"/>
<rect x="1511" y="102" width="45" height="14" fill="#000"/>
<rect x="1511" y="184" width="45" height="14" fill="#ff0000"/>
<rect x="1511" y="358" width="45" height="14" fill="#ff0000"/>
<rect x="6" y="10" width="9" height="1"/>
<rect x="7" y="11" width="7" height="1"/>
<rect x="8" y="12" width="5" height="1"/>
<rect x="9" y="13" width="3" height="1"/>
<rect x="10" y="14" width="1" height="1"/>
</svg>
<div class="t" id="h0a" style="left:20.68px;top:6px;color:#000;letter-spacing:0.000px;transform:scaleX(0.9179);">NKD</div>
<div class="t" id="h0b" style="left:42.18px;top:6px;color:#000;letter-spacing:0.000px;transform:scaleX(1.5000);">,</div>
<div class="t" id="h0c" style="left:47.64px;top:6px;color:#000;letter-spacing:0.000px;transform:scaleX(0.9643);">H4</div>
<div class="t" id="h1" style="left:71.00px;top:6px;color:#000;letter-spacing:0.325px;">27530</div>
<div class="t" id="h2" style="left:110.00px;top:6px;color:#000;letter-spacing:0.325px;">27625</div>
<div class="t" id="h3" style="left:148.80px;top:6px;color:#000;letter-spacing:0.325px;">27350</div>
<div class="t" id="h4" style="left:187.80px;top:6px;color:#000;letter-spacing:0.275px;">27350</div>
<div class="t" id="m0a" style="left:6.72px;top:558px;color:#000;letter-spacing:0.000px;transform:scaleX(0.9173);">MACD</div>
<div class="t" id="m0b" style="left:38.95px;top:558px;color:#000;letter-spacing:0.688px;">(12,26,9)</div>
<div class="t" id="m1" style="left:95.80px;top:558px;color:#000;letter-spacing:0.363px;">239.4</div>
<div class="t" id="m2" style="left:131.80px;top:558px;color:#000;letter-spacing:0.412px;">173.4</div>
<div class="t" id="m3a" style="left:172.11px;top:558px;color:#000;letter-spacing:0.000px;transform:scaleX(1.1800);">-&gt;</div>
<div class="t" id="m3b" style="left:184.43px;top:558px;color:#000;letter-spacing:0.000px;transform:scaleX(1.0742);">MA(1)</div>
<div class="t" id="m4" style="left:222.80px;top:558px;color:#000;letter-spacing:0.362px;">239.4</div>
<div class="t" id="p41" style="left:1515.70px;top:35px;color:#000;letter-spacing:0.512px;">27657</div>
<div class="t" id="p90" style="left:1515.70px;top:84px;color:#000;letter-spacing:0.512px;">27432</div>
<div class="t" id="p140" style="left:1515.70px;top:134px;color:#000;letter-spacing:0.512px;">27207</div>
<div class="t" id="p238" style="left:1515.70px;top:232px;color:#000;letter-spacing:0.512px;">26767</div>
<div class="t" id="p287" style="left:1515.70px;top:281px;color:#000;letter-spacing:0.512px;">26542</div>
<div class="t" id="p336" style="left:1515.70px;top:330px;color:#000;letter-spacing:0.512px;">26322</div>
<div class="t" id="p385" style="left:1515.70px;top:379px;color:#000;letter-spacing:0.512px;">26102</div>
<div class="t" id="p434" style="left:1515.70px;top:428px;color:#000;letter-spacing:0.512px;">25877</div>
<div class="t" id="p483" style="left:1515.70px;top:477px;color:#000;letter-spacing:0.512px;">25657</div>
<div class="t" id="p532" style="left:1515.70px;top:526px;color:#000;letter-spacing:0.512px;">25437</div>
<div class="t" id="pc" style="left:1515.90px;top:103px;color:#fff;letter-spacing:0.350px;">27350</div>
<div class="t" id="pr1" style="left:1515.90px;top:185px;color:#fff;letter-spacing:0.350px;">26980</div>
<div class="t" id="pr2" style="left:1515.90px;top:359px;color:#fff;letter-spacing:0.350px;">26196</div>
<div class="t" id="a0" style="left:1512.50px;top:556px;color:#000;letter-spacing:0.750px;">280.2</div>
<div class="t" id="a1" style="left:1513.00px;top:751px;color:#000;letter-spacing:0.400px;">0.00</div>
<div class="t" id="a2" style="left:1512.70px;top:812px;color:#000;letter-spacing:0.462px;">-93.9</div>
<div class="t" id="d0" style="left:2.20px;top:831px;color:#000;letter-spacing:0.245px;">13 Nov 2020</div>
<div class="t" id="d1" style="left:98.20px;top:831px;color:#000;letter-spacing:0.273px;">17 Nov 20:00</div>
<div class="t" id="d2" style="left:194.20px;top:831px;color:#000;letter-spacing:0.273px;">19 Nov 20:00</div>
<div class="t" id="d3" style="left:290.70px;top:831px;color:#000;letter-spacing:0.227px;">23 Nov 20:00</div>
<div class="t" id="d4" style="left:386.70px;top:831px;color:#000;letter-spacing:0.227px;">25 Nov 20:00</div>
<div class="t" id="d5" style="left:482.70px;top:831px;color:#000;letter-spacing:0.227px;">30 Nov 00:00</div>
<div class="t" id="d6" style="left:578.70px;top:831px;color:#000;letter-spacing:0.275px;">2 Dec 00:00</div>
<div class="t" id="d7" style="left:674.95px;top:831px;color:#000;letter-spacing:0.250px;">4 Dec 00:00</div>
<div class="t" id="d8" style="left:770.70px;top:831px;color:#000;letter-spacing:0.275px;">8 Dec 00:00</div>
<div class="t" id="d9" style="left:866.20px;top:831px;color:#000;letter-spacing:0.327px;">10 Dec 00:00</div>
<div class="t" id="d10" style="left:962.20px;top:831px;color:#000;letter-spacing:0.327px;">14 Dec 00:00</div>
<div class="t" id="d11" style="left:1058.20px;top:831px;color:#000;letter-spacing:0.327px;">16 Dec 00:00</div>
<div class="t" id="d12" style="left:1154.20px;top:831px;color:#000;letter-spacing:0.327px;">18 Dec 00:00</div>
<div class="t" id="d13" style="left:1250.70px;top:831px;color:#000;letter-spacing:0.282px;">22 Dec 00:00</div>
<div class="t" id="d14" style="left:1346.70px;top:831px;color:#000;letter-spacing:0.282px;">24 Dec 00:00</div>
<div class="t" id="d15" style="left:1442.70px;top:831px;color:#000;letter-spacing:0.282px;">29 Dec 00:00</div>
</body></html>
